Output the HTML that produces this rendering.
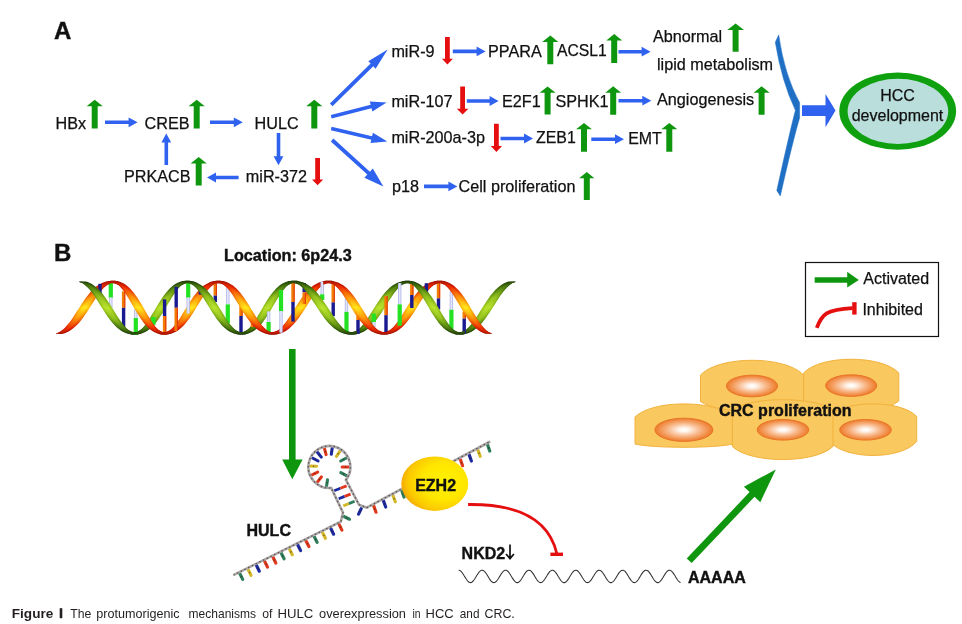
<!DOCTYPE html>
<html><head><meta charset="utf-8"><title>Figure 1</title>
<style>
html,body{margin:0;padding:0;background:#fff;}
body{width:962px;height:624px;overflow:hidden;font-family:"Liberation Sans",sans-serif;}
svg{display:block;will-change:transform;}
svg text{font-family:"Liberation Sans",sans-serif;fill:#111111;stroke:#111111;stroke-width:0.25px;}
svg text[font-weight="bold"]{stroke-width:0.4px;}
svg g.cap text{stroke:none;}
</style></head><body>
<svg width="962" height="624" viewBox="0 0 962 624">
<defs>
<radialGradient id="nuc" cx="50%" cy="50%" r="50%">
<stop offset="0" stop-color="#ffffff"/><stop offset="0.14" stop-color="#fff8f2"/><stop offset="0.55" stop-color="#f8b88a"/><stop offset="1" stop-color="#ee7a28"/>
</radialGradient>
<radialGradient id="ezh" cx="64%" cy="46%" r="68%">
<stop offset="0" stop-color="#fff200"/><stop offset="0.5" stop-color="#ffe600"/><stop offset="0.8" stop-color="#fbc800"/><stop offset="1" stop-color="#f29c00"/>
</radialGradient>
</defs>
<rect width="962" height="624" fill="#ffffff"/>

<text x="54" y="38.8" font-size="24" font-weight="bold" text-anchor="start" >A</text>
<text x="55.5" y="128.5" font-size="16.2" text-anchor="start" >HBx</text>
<path fill="#0f960f" d="M94.7,99.8 L102.8,106.2 L97.7,106.2 L97.7,128.5 L91.7,128.5 L91.7,106.2 L86.6,106.2Z"/>
<path fill="#3062f0" d="M105.0,124.1 L128.6,124.1 L128.6,127.2 L137.6,122.3 L128.6,117.4 L128.6,120.5 L105.0,120.5Z"/>
<text x="144.5" y="128.5" font-size="16.2" text-anchor="start" >CREB</text>
<path fill="#0f960f" d="M196.7,99.8 L204.8,106.2 L199.7,106.2 L199.7,128.5 L193.7,128.5 L193.7,106.2 L188.6,106.2Z"/>
<path fill="#3062f0" d="M210.0,124.1 L233.8,124.1 L233.8,127.2 L242.8,122.3 L233.8,117.4 L233.8,120.5 L210.0,120.5Z"/>
<text x="254.5" y="128.5" font-size="16.2" text-anchor="start" >HULC</text>
<path fill="#0f960f" d="M314.3,99.8 L322.4,106.2 L317.3,106.2 L317.3,128.5 L311.3,128.5 L311.3,106.2 L306.2,106.2Z"/>
<path fill="#3062f0" d="M276.7,133.0 L276.7,156.2 L273.6,156.2 L278.5,165.2 L283.4,156.2 L280.3,156.2 L280.3,133.0Z"/>
<path fill="#3062f0" d="M168.1,165.0 L168.1,142.6 L171.2,142.6 L166.3,133.6 L161.4,142.6 L164.5,142.6 L164.5,165.0Z"/>
<text x="124" y="181.8" font-size="16.2" text-anchor="start" >PRKACB</text>
<path fill="#0f960f" d="M198.7,157.0 L206.8,163.4 L201.7,163.4 L201.7,185.5 L195.7,185.5 L195.7,163.4 L190.6,163.4Z"/>
<path fill="#3062f0" d="M238.6,175.7 L216.0,175.7 L216.0,172.6 L207.0,177.5 L216.0,182.4 L216.0,179.3 L238.6,179.3Z"/>
<text x="245.8" y="181.8" font-size="16.2" text-anchor="start" >miR-372</text>
<path fill="#e60f0f" d="M317.6,185.2 L323.2,179.4 L320.0,179.4 L320.0,158.0 L315.2,158.0 L315.2,179.4 L312.0,179.4Z"/>
<path fill="#3062f0" d="M332.5,106.2 L373.3,66.3 L375.6,68.7 L387.7,49.6 L368.3,61.2 L370.6,63.6 L329.9,103.4Z"/>
<path fill="#3062f0" d="M331.6,118.4 L371.5,108.3 L372.4,111.6 L386.6,102.6 L369.8,101.5 L370.7,104.8 L330.8,115.0Z"/>
<path fill="#3062f0" d="M330.8,130.3 L371.3,139.7 L370.5,143.1 L387.3,141.6 L372.9,132.8 L372.1,136.2 L331.6,126.7Z"/>
<path fill="#3062f0" d="M330.8,141.5 L367.3,174.6 L364.4,177.8 L383.4,186.6 L372.8,168.5 L369.9,171.7 L333.4,138.5Z"/>
<text x="391.4" y="57.4" font-size="16.2" text-anchor="start" >miR-9</text>
<path fill="#e60f0f" d="M447.4,64.6 L452.9,58.8 L449.8,58.8 L449.8,37.0 L445.0,37.0 L445.0,58.8 L441.9,58.8Z"/>
<path fill="#3062f0" d="M452.8,53.2 L476.6,53.2 L476.6,56.3 L485.6,51.4 L476.6,46.5 L476.6,49.6 L452.8,49.6Z"/>
<text x="488" y="57.4" font-size="16.2" text-anchor="start" >PPARA</text>
<path fill="#0f960f" d="M550.3,35.6 L558.4,42.0 L553.3,42.0 L553.3,64.3 L547.3,64.3 L547.3,42.0 L542.2,42.0Z"/>
<text x="557" y="56.4" font-size="15.7" text-anchor="start" >ACSL1</text>
<path fill="#0f960f" d="M614.2,34.0 L622.2,40.4 L617.2,40.4 L617.2,62.9 L611.2,62.9 L611.2,40.4 L606.3,40.4Z"/>
<path fill="#3062f0" d="M618.5,53.5 L641.6,53.5 L641.6,56.6 L650.6,51.7 L641.6,46.8 L641.6,49.9 L618.5,49.9Z"/>
<text x="652.9" y="42" font-size="16.2" text-anchor="start" >Abnormal</text>
<path fill="#0f960f" d="M735.6,23.5 L744.0,29.9 L738.6,29.9 L738.6,51.7 L732.6,51.7 L732.6,29.9 L727.2,29.9Z"/>
<text x="657" y="70.3" font-size="16.2" text-anchor="start" >lipid metabolism</text>
<text x="391.4" y="107.0" font-size="16.2" text-anchor="start" >miR-107</text>
<path fill="#e60f0f" d="M462.6,114.5 L468.4,108.7 L465.0,108.7 L465.0,86.4 L460.2,86.4 L460.2,108.7 L456.8,108.7Z"/>
<path fill="#3062f0" d="M466.8,102.8 L489.6,102.8 L489.6,105.9 L498.6,101.0 L489.6,96.1 L489.6,99.2 L466.8,99.2Z"/>
<text x="502" y="107.0" font-size="16.2" text-anchor="start" >E2F1</text>
<path fill="#0f960f" d="M547.6,86.4 L555.6,92.8 L550.6,92.8 L550.6,114.5 L544.6,114.5 L544.6,92.8 L539.6,92.8Z"/>
<text x="555.4" y="106.8" font-size="16.2" text-anchor="start" >SPHK1</text>
<path fill="#0f960f" d="M613.2,86.3 L621.2,92.7 L616.2,92.7 L616.2,114.8 L610.2,114.8 L610.2,92.7 L605.3,92.7Z"/>
<path fill="#3062f0" d="M618.5,102.5 L642.3,102.5 L642.3,105.6 L651.3,100.7 L642.3,95.8 L642.3,98.9 L618.5,98.9Z"/>
<text x="657" y="104.6" font-size="16.2" text-anchor="start" >Angiogenesis</text>
<path fill="#0f960f" d="M761.6,86.3 L769.6,92.7 L764.6,92.7 L764.6,114.8 L758.6,114.8 L758.6,92.7 L753.6,92.7Z"/>
<text x="391.4" y="143.0" font-size="16.2" text-anchor="start" >miR-200a-3p</text>
<path fill="#e60f0f" d="M496.4,151.9 L502.0,146.1 L498.8,146.1 L498.8,123.8 L494.0,123.8 L494.0,146.1 L490.8,146.1Z"/>
<path fill="#3062f0" d="M500.5,140.3 L524.0,140.3 L524.0,143.4 L533.0,138.5 L524.0,133.6 L524.0,136.7 L500.5,136.7Z"/>
<text x="536" y="143.0" font-size="15.9" text-anchor="start" >ZEB1</text>
<path fill="#0f960f" d="M584.0,122.9 L591.9,129.3 L587.0,129.3 L587.0,151.7 L581.0,151.7 L581.0,129.3 L576.1,129.3Z"/>
<path fill="#3062f0" d="M591.3,141.0 L615.0,141.0 L615.0,144.1 L624.0,139.2 L615.0,134.3 L615.0,137.4 L591.3,137.4Z"/>
<text x="628.2" y="143.5" font-size="15.9" text-anchor="start" >EMT</text>
<path fill="#0f960f" d="M669.3,122.9 L677.3,129.3 L672.3,129.3 L672.3,151.7 L666.3,151.7 L666.3,129.3 L661.4,129.3Z"/>
<text x="391.9" y="191.7" font-size="16.2" text-anchor="start" >p18</text>
<path fill="#3062f0" d="M424.0,188.2 L448.4,188.2 L448.4,191.3 L457.4,186.4 L448.4,181.5 L448.4,184.6 L424.0,184.6Z"/>
<text x="458.5" y="191.7" font-size="16.2" text-anchor="start" >Cell proliferation</text>
<path fill="#0f960f" d="M586.8,171.9 L594.4,178.3 L589.8,178.3 L589.8,200.0 L583.8,200.0 L583.8,178.3 L579.1,178.3Z"/>
<path fill="#1f6fc4" stroke="#1f6fc4" stroke-width="0.5" stroke-linejoin="round" d="M778.7,34.9 Q784.5,75 799.6,102.6 L799.6,118 Q793,140 780.3,196 L776.8,190.5 Q789,135 795.4,110.3 Q781.8,82 775.3,42.3Z"/>
<path fill="#3062f0" d="M802,105.3 L825.5,105.3 L825.5,94 L835.5,110.6 L825.5,127.2 L825.5,116 L802,116Z"/>
<ellipse cx="897.7" cy="111.15" rx="58.4" ry="38.65" fill="#0fa00f"/>
<ellipse cx="897.9" cy="111.35" rx="50.3" ry="32.7" fill="#badedb"/>
<text x="897.5" y="100.8" font-size="16" text-anchor="middle" >HCC</text>
<text x="897.5" y="120.6" font-size="16" text-anchor="middle" >development</text>
<text x="54" y="260.8" font-size="24" font-weight="bold" text-anchor="start" >B</text>
<text x="224" y="260.6" font-size="16.2" font-weight="bold" text-anchor="start" >Location: 6p24.3</text>
<defs>
<linearGradient id="g1" gradientUnits="userSpaceOnUse" x1="0" y1="279.9" x2="0" y2="335.4"><stop offset="0" stop-color="#122a02"/><stop offset="0.13" stop-color="#386408"/><stop offset="0.31" stop-color="#74a416"/><stop offset="0.5" stop-color="#9cc81e"/><stop offset="0.69" stop-color="#74a416"/><stop offset="0.87" stop-color="#386408"/><stop offset="1" stop-color="#122a02"/></linearGradient>
<linearGradient id="g2" gradientUnits="userSpaceOnUse" x1="0" y1="279.9" x2="0" y2="335.4"><stop offset="0" stop-color="#183404"/><stop offset="0.13" stop-color="#44740c"/><stop offset="0.31" stop-color="#84b41a"/><stop offset="0.5" stop-color="#acd824"/><stop offset="0.69" stop-color="#84b41a"/><stop offset="0.87" stop-color="#44740c"/><stop offset="1" stop-color="#183404"/></linearGradient>
<linearGradient id="g3" gradientUnits="userSpaceOnUse" x1="0" y1="279.9" x2="0" y2="335.4"><stop offset="0" stop-color="#1e3c06"/><stop offset="0.13" stop-color="#508010"/><stop offset="0.31" stop-color="#94c21e"/><stop offset="0.5" stop-color="#bae22e"/><stop offset="0.69" stop-color="#94c21e"/><stop offset="0.87" stop-color="#508010"/><stop offset="1" stop-color="#1e3c06"/></linearGradient>
<linearGradient id="o1" gradientUnits="userSpaceOnUse" x1="0" y1="279.9" x2="0" y2="335.4"><stop offset="0" stop-color="#8c0800"/><stop offset="0.13" stop-color="#d41a00"/><stop offset="0.31" stop-color="#f26e06"/><stop offset="0.5" stop-color="#fdbe0c"/><stop offset="0.69" stop-color="#f26e06"/><stop offset="0.87" stop-color="#d41a00"/><stop offset="1" stop-color="#8c0800"/></linearGradient>
<linearGradient id="o2" gradientUnits="userSpaceOnUse" x1="0" y1="279.9" x2="0" y2="335.4"><stop offset="0" stop-color="#9c0e00"/><stop offset="0.13" stop-color="#e42400"/><stop offset="0.31" stop-color="#fa8408"/><stop offset="0.5" stop-color="#ffd414"/><stop offset="0.69" stop-color="#fa8408"/><stop offset="0.87" stop-color="#e42400"/><stop offset="1" stop-color="#9c0e00"/></linearGradient>
<linearGradient id="o3" gradientUnits="userSpaceOnUse" x1="0" y1="279.9" x2="0" y2="335.4"><stop offset="0" stop-color="#a81200"/><stop offset="0.13" stop-color="#ee3002"/><stop offset="0.31" stop-color="#fe960a"/><stop offset="0.5" stop-color="#ffe61c"/><stop offset="0.69" stop-color="#fe960a"/><stop offset="0.87" stop-color="#ee3002"/><stop offset="1" stop-color="#a81200"/></linearGradient>
</defs>
<g>
<path fill="url(#g1)" d="M129.6,330.6 L131.3,331.5 L133.1,332.0 L134.8,332.1 L136.6,331.9 L138.3,331.2 L140.1,330.1 L141.8,328.7 L143.5,326.9 L145.3,324.7 L147.0,322.4 L148.8,319.8 L150.5,317.0 L152.2,314.1 L154.0,311.2 L155.7,308.2 L157.5,305.3 L159.2,302.4 L160.9,299.7 L162.7,297.1 L164.4,294.7 L166.2,292.4 L167.9,290.4 L169.7,288.6 L171.4,287.0 L173.1,285.5 L174.9,284.3 L176.6,283.3 L178.4,282.5 L180.1,281.8 L181.9,281.3 L183.6,281.0 L185.3,280.7 L187.1,280.7 L188.8,280.7 L190.6,280.9 L192.3,281.2 L192.3,284.8 L190.6,283.8 L188.8,283.3 L187.1,283.2 L185.3,283.4 L183.6,284.1 L181.9,285.2 L180.1,286.6 L178.4,288.4 L176.6,290.6 L174.9,292.9 L173.1,295.5 L171.4,298.3 L169.7,301.2 L167.9,304.1 L166.2,307.1 L164.4,310.0 L162.7,312.9 L160.9,315.6 L159.2,318.2 L157.5,320.6 L155.7,322.9 L154.0,324.9 L152.2,326.7 L150.5,328.3 L148.8,329.8 L147.0,331.0 L145.3,332.0 L143.5,332.8 L141.8,333.5 L140.1,334.0 L138.3,334.3 L136.6,334.6 L134.8,334.6 L133.1,334.6 L131.3,334.4 L129.6,334.1Z"/>
<path fill="url(#g2)" d="M129.6,331.1 L131.3,331.9 L133.1,332.4 L134.8,332.5 L136.6,332.3 L138.3,331.7 L140.1,330.7 L141.8,329.3 L143.5,327.7 L145.3,325.7 L147.0,323.5 L148.8,321.1 L150.5,318.5 L152.2,315.7 L154.0,312.9 L155.7,310.1 L157.5,307.2 L159.2,304.4 L160.9,301.7 L162.7,299.1 L164.4,296.6 L166.2,294.3 L167.9,292.1 L169.7,290.2 L171.4,288.4 L173.1,286.8 L174.9,285.5 L176.6,284.3 L178.4,283.3 L180.1,282.5 L181.9,281.9 L183.6,281.4 L185.3,281.2 L187.1,281.1 L188.8,281.1 L190.6,281.3 L192.3,281.7 L192.3,284.2 L190.6,283.4 L188.8,282.9 L187.1,282.8 L185.3,283.0 L183.6,283.6 L181.9,284.6 L180.1,286.0 L178.4,287.6 L176.6,289.6 L174.9,291.8 L173.1,294.2 L171.4,296.8 L169.7,299.6 L167.9,302.4 L166.2,305.2 L164.4,308.1 L162.7,310.9 L160.9,313.6 L159.2,316.2 L157.5,318.7 L155.7,321.0 L154.0,323.2 L152.2,325.1 L150.5,326.9 L148.8,328.5 L147.0,329.8 L145.3,331.0 L143.5,332.0 L141.8,332.8 L140.1,333.4 L138.3,333.9 L136.6,334.1 L134.8,334.2 L133.1,334.2 L131.3,334.0 L129.6,333.6Z"/>
<path fill="url(#g3)" d="M129.6,331.7 L131.3,332.5 L133.1,332.9 L134.8,333.0 L136.6,332.8 L138.3,332.2 L140.1,331.3 L141.8,330.1 L143.5,328.6 L145.3,326.9 L147.0,324.9 L148.8,322.6 L150.5,320.2 L152.2,317.7 L154.0,315.1 L155.7,312.3 L157.5,309.6 L159.2,306.9 L160.9,304.2 L162.7,301.5 L164.4,299.0 L166.2,296.6 L167.9,294.3 L169.7,292.2 L171.4,290.2 L173.1,288.4 L174.9,286.8 L176.6,285.5 L178.4,284.3 L180.1,283.3 L181.9,282.5 L183.6,282.0 L185.3,281.6 L187.1,281.5 L188.8,281.6 L190.6,281.9 L192.3,282.3 L192.3,283.6 L190.6,282.9 L188.8,282.4 L187.1,282.3 L185.3,282.5 L183.6,283.1 L181.9,284.0 L180.1,285.2 L178.4,286.7 L176.6,288.4 L174.9,290.4 L173.1,292.7 L171.4,295.1 L169.7,297.6 L167.9,300.2 L166.2,303.0 L164.4,305.7 L162.7,308.4 L160.9,311.1 L159.2,313.8 L157.5,316.3 L155.7,318.7 L154.0,321.0 L152.2,323.1 L150.5,325.1 L148.8,326.9 L147.0,328.5 L145.3,329.8 L143.5,331.0 L141.8,332.0 L140.1,332.8 L138.3,333.3 L136.6,333.7 L134.8,333.8 L133.1,333.7 L131.3,333.5 L129.6,333.0Z"/>
<path fill="url(#g1)" d="M236.4,330.5 L238.1,331.4 L239.8,332.0 L241.6,332.1 L243.3,331.9 L245.0,331.2 L246.8,330.1 L248.5,328.7 L250.2,326.9 L251.9,324.8 L253.7,322.4 L255.4,319.8 L257.1,317.0 L258.8,314.2 L260.6,311.2 L262.3,308.2 L264.0,305.3 L265.7,302.4 L267.4,299.7 L269.2,297.1 L270.9,294.7 L272.6,292.4 L274.4,290.4 L276.1,288.6 L277.8,286.9 L279.5,285.5 L281.2,284.3 L283.0,283.3 L284.7,282.5 L286.4,281.8 L288.1,281.3 L289.9,280.9 L291.6,280.7 L293.3,280.7 L295.1,280.7 L296.8,280.8 L298.5,281.1 L298.5,284.6 L296.8,283.8 L295.1,283.3 L293.3,283.2 L291.6,283.4 L289.9,284.1 L288.1,285.2 L286.4,286.6 L284.7,288.4 L283.0,290.5 L281.2,292.9 L279.5,295.5 L277.8,298.3 L276.1,301.1 L274.4,304.1 L272.6,307.1 L270.9,310.0 L269.2,312.9 L267.4,315.6 L265.7,318.2 L264.0,320.6 L262.3,322.9 L260.6,324.9 L258.8,326.7 L257.1,328.4 L255.4,329.8 L253.7,331.0 L251.9,332.0 L250.2,332.8 L248.5,333.5 L246.8,334.0 L245.0,334.4 L243.3,334.6 L241.6,334.6 L239.8,334.6 L238.1,334.4 L236.4,334.1Z"/>
<path fill="url(#g2)" d="M236.4,331.1 L238.1,331.9 L239.8,332.4 L241.6,332.5 L243.3,332.3 L245.0,331.7 L246.8,330.7 L248.5,329.4 L250.2,327.7 L251.9,325.7 L253.7,323.5 L255.4,321.1 L257.1,318.5 L258.8,315.8 L260.6,312.9 L262.3,310.1 L264.0,307.2 L265.7,304.4 L267.4,301.7 L269.2,299.1 L270.9,296.6 L272.6,294.3 L274.4,292.1 L276.1,290.2 L277.8,288.4 L279.5,286.8 L281.2,285.5 L283.0,284.3 L284.7,283.3 L286.4,282.5 L288.1,281.9 L289.9,281.4 L291.6,281.2 L293.3,281.1 L295.1,281.1 L296.8,281.3 L298.5,281.6 L298.5,284.0 L296.8,283.3 L295.1,282.9 L293.3,282.8 L291.6,283.0 L289.9,283.6 L288.1,284.6 L286.4,285.9 L284.7,287.6 L283.0,289.6 L281.2,291.8 L279.5,294.2 L277.8,296.8 L276.1,299.5 L274.4,302.4 L272.6,305.2 L270.9,308.1 L269.2,310.9 L267.4,313.6 L265.7,316.2 L264.0,318.7 L262.3,321.0 L260.6,323.2 L258.8,325.1 L257.1,326.9 L255.4,328.5 L253.7,329.8 L251.9,331.0 L250.2,332.0 L248.5,332.8 L246.8,333.4 L245.0,333.9 L243.3,334.1 L241.6,334.2 L239.8,334.2 L238.1,334.0 L236.4,333.6Z"/>
<path fill="url(#g3)" d="M236.4,331.7 L238.1,332.4 L239.8,332.9 L241.6,333.0 L243.3,332.8 L245.0,332.2 L246.8,331.4 L248.5,330.2 L250.2,328.7 L251.9,326.9 L253.7,324.9 L255.4,322.7 L257.1,320.3 L258.8,317.7 L260.6,315.1 L262.3,312.4 L264.0,309.6 L265.7,306.9 L267.4,304.2 L269.2,301.5 L270.9,299.0 L272.6,296.6 L274.4,294.3 L276.1,292.1 L277.8,290.2 L279.5,288.4 L281.2,286.8 L283.0,285.4 L284.7,284.3 L286.4,283.3 L288.1,282.5 L289.9,282.0 L291.6,281.6 L293.3,281.5 L295.1,281.6 L296.8,281.8 L298.5,282.2 L298.5,283.5 L296.8,282.8 L295.1,282.4 L293.3,282.3 L291.6,282.5 L289.9,283.1 L288.1,283.9 L286.4,285.1 L284.7,286.6 L283.0,288.4 L281.2,290.4 L279.5,292.6 L277.8,295.0 L276.1,297.6 L274.4,300.2 L272.6,302.9 L270.9,305.7 L269.2,308.4 L267.4,311.1 L265.7,313.8 L264.0,316.3 L262.3,318.7 L260.6,321.0 L258.8,323.2 L257.1,325.1 L255.4,326.9 L253.7,328.5 L251.9,329.9 L250.2,331.0 L248.5,332.0 L246.8,332.8 L245.0,333.3 L243.3,333.7 L241.6,333.8 L239.8,333.7 L238.1,333.4 L236.4,333.0Z"/>
<path fill="url(#g1)" d="M346.6,330.7 L348.4,331.6 L350.3,332.0 L352.1,332.1 L353.9,331.8 L355.8,331.1 L357.6,330.0 L359.4,328.5 L361.2,326.7 L363.1,324.6 L364.9,322.2 L366.7,319.6 L368.6,316.8 L370.4,314.0 L372.2,311.1 L374.1,308.1 L375.9,305.2 L377.7,302.4 L379.6,299.7 L381.4,297.1 L383.2,294.7 L385.0,292.5 L386.9,290.5 L388.7,288.7 L390.5,287.0 L392.4,285.6 L394.2,284.4 L396.0,283.4 L397.9,282.6 L399.7,281.9 L401.5,281.4 L403.3,281.0 L405.2,280.8 L407.0,280.7 L408.8,280.7 L410.7,280.9 L412.5,281.2 L412.5,284.9 L410.7,283.9 L408.8,283.3 L407.0,283.2 L405.2,283.5 L403.3,284.2 L401.5,285.3 L399.7,286.8 L397.9,288.6 L396.0,290.7 L394.2,293.1 L392.4,295.7 L390.5,298.5 L388.7,301.3 L386.9,304.2 L385.0,307.2 L383.2,310.1 L381.4,312.9 L379.6,315.6 L377.7,318.2 L375.9,320.6 L374.1,322.8 L372.2,324.8 L370.4,326.6 L368.6,328.3 L366.7,329.7 L364.9,330.9 L363.1,331.9 L361.2,332.7 L359.4,333.4 L357.6,333.9 L355.8,334.3 L353.9,334.5 L352.1,334.6 L350.3,334.6 L348.4,334.5 L346.6,334.2Z"/>
<path fill="url(#g2)" d="M346.6,331.3 L348.4,332.0 L350.3,332.5 L352.1,332.5 L353.9,332.2 L355.8,331.6 L357.6,330.6 L359.4,329.2 L361.2,327.5 L363.1,325.5 L364.9,323.3 L366.7,320.9 L368.6,318.3 L370.4,315.6 L372.2,312.8 L374.1,310.0 L375.9,307.2 L377.7,304.4 L379.6,301.7 L381.4,299.1 L383.2,296.7 L385.0,294.4 L386.9,292.2 L388.7,290.3 L390.5,288.5 L392.4,286.9 L394.2,285.6 L396.0,284.4 L397.9,283.4 L399.7,282.6 L401.5,281.9 L403.3,281.5 L405.2,281.2 L407.0,281.1 L408.8,281.1 L410.7,281.3 L412.5,281.8 L412.5,284.4 L410.7,283.4 L408.8,282.9 L407.0,282.8 L405.2,283.1 L403.3,283.7 L401.5,284.7 L399.7,286.1 L397.9,287.8 L396.0,289.8 L394.2,292.0 L392.4,294.4 L390.5,297.0 L388.7,299.7 L386.9,302.5 L385.0,305.3 L383.2,308.1 L381.4,310.9 L379.6,313.6 L377.7,316.2 L375.9,318.6 L374.1,320.9 L372.2,323.1 L370.4,325.0 L368.6,326.8 L366.7,328.4 L364.9,329.7 L363.1,330.9 L361.2,331.9 L359.4,332.7 L357.6,333.4 L355.8,333.8 L353.9,334.1 L352.1,334.2 L350.3,334.2 L348.4,334.0 L346.6,333.7Z"/>
<path fill="url(#g3)" d="M346.6,331.8 L348.4,332.5 L350.3,332.9 L352.1,333.0 L353.9,332.7 L355.8,332.1 L357.6,331.2 L359.4,330.0 L361.2,328.5 L363.1,326.7 L364.9,324.7 L366.7,322.5 L368.6,320.1 L370.4,317.6 L372.2,315.0 L374.1,312.3 L375.9,309.6 L377.7,306.8 L379.6,304.2 L381.4,301.6 L383.2,299.0 L385.0,296.6 L386.9,294.4 L388.7,292.2 L390.5,290.3 L392.4,288.5 L394.2,286.9 L396.0,285.6 L397.9,284.4 L399.7,283.4 L401.5,282.6 L403.3,282.0 L405.2,281.7 L407.0,281.5 L408.8,281.6 L410.7,281.9 L412.5,282.4 L412.5,283.7 L410.7,282.9 L408.8,282.4 L407.0,282.3 L405.2,282.6 L403.3,283.2 L401.5,284.1 L399.7,285.3 L397.9,286.8 L396.0,288.6 L394.2,290.6 L392.4,292.8 L390.5,295.2 L388.7,297.7 L386.9,300.3 L385.0,303.0 L383.2,305.7 L381.4,308.5 L379.6,311.1 L377.7,313.7 L375.9,316.3 L374.1,318.7 L372.2,320.9 L370.4,323.1 L368.6,325.0 L366.7,326.8 L364.9,328.4 L363.1,329.7 L361.2,330.9 L359.4,331.9 L357.6,332.7 L355.8,333.3 L353.9,333.6 L352.1,333.8 L350.3,333.7 L348.4,333.5 L346.6,333.1Z"/>
<path fill="url(#g1)" d="M454.6,330.4 L456.3,331.4 L458.0,332.0 L459.7,332.1 L461.4,332.0 L463.1,331.4 L464.8,330.5 L466.4,329.3 L468.1,327.8 L469.8,326.0 L471.5,324.0 L473.2,321.8 L474.9,319.4 L476.6,316.8 L478.3,314.2 L480.0,311.5 L481.7,308.8 L483.4,306.1 L485.1,303.4 L486.7,300.9 L488.4,298.4 L490.1,296.1 L491.8,294.0 L493.5,292.0 L495.2,290.1 L496.9,288.5 L498.6,287.0 L500.3,285.7 L502.0,284.6 L503.7,283.6 L505.4,282.8 L507.0,282.1 L508.7,281.6 L510.4,281.4 L512.1,281.4 L513.8,281.5 L515.5,281.7 L515.5,282.1 L513.8,282.5 L512.1,283.3 L510.4,284.5 L508.7,285.9 L507.0,287.4 L505.4,289.2 L503.7,291.2 L502.0,293.4 L500.3,295.8 L498.6,298.4 L496.9,301.0 L495.2,303.7 L493.5,306.4 L491.8,309.1 L490.1,311.7 L488.4,314.3 L486.7,316.8 L485.1,319.1 L483.4,321.2 L481.7,323.3 L480.0,325.1 L478.3,326.8 L476.6,328.2 L474.9,329.6 L473.2,330.7 L471.5,331.7 L469.8,332.5 L468.1,333.2 L466.4,333.7 L464.8,334.1 L463.1,334.4 L461.4,334.6 L459.7,334.6 L458.0,334.6 L456.3,334.4 L454.6,334.1Z"/>
<path fill="url(#g2)" d="M454.6,330.9 L456.3,331.8 L458.0,332.4 L459.7,332.5 L461.4,332.4 L463.1,331.9 L464.8,331.1 L466.4,330.0 L468.1,328.6 L469.8,326.9 L471.5,325.0 L473.2,322.9 L474.9,320.7 L476.6,318.3 L478.3,315.8 L480.0,313.2 L481.7,310.6 L483.4,308.0 L485.1,305.4 L486.7,302.9 L488.4,300.4 L490.1,298.1 L491.8,295.9 L493.5,293.8 L495.2,291.9 L496.9,290.1 L498.6,288.5 L500.3,287.0 L502.0,285.7 L503.7,284.6 L505.4,283.6 L507.0,282.8 L508.7,282.2 L510.4,281.8 L512.1,281.7 L513.8,281.7 L515.5,281.8 L515.5,282.0 L513.8,282.4 L512.1,283.0 L510.4,284.0 L508.7,285.3 L507.0,286.7 L505.4,288.3 L503.7,290.2 L502.0,292.3 L500.3,294.5 L498.6,296.9 L496.9,299.4 L495.2,302.0 L493.5,304.6 L491.8,307.2 L490.1,309.8 L488.4,312.3 L486.7,314.8 L485.1,317.1 L483.4,319.3 L481.7,321.4 L480.0,323.4 L478.3,325.1 L476.6,326.8 L474.9,328.2 L473.2,329.5 L471.5,330.7 L469.8,331.6 L468.1,332.4 L466.4,333.1 L464.8,333.6 L463.1,334.0 L461.4,334.2 L459.7,334.2 L458.0,334.2 L456.3,333.9 L454.6,333.5Z"/>
<path fill="url(#g3)" d="M454.6,331.6 L456.3,332.4 L458.0,332.8 L459.7,333.0 L461.4,332.8 L463.1,332.4 L464.8,331.7 L466.4,330.7 L468.1,329.4 L469.8,328.0 L471.5,326.3 L473.2,324.4 L474.9,322.3 L476.6,320.1 L478.3,317.7 L480.0,315.3 L481.7,312.9 L483.4,310.3 L485.1,307.8 L486.7,305.3 L488.4,302.9 L490.1,300.5 L491.8,298.2 L493.5,296.0 L495.2,294.0 L496.9,292.0 L498.6,290.2 L500.3,288.6 L502.0,287.1 L503.7,285.8 L505.4,284.7 L507.0,283.7 L508.7,282.9 L510.4,282.4 L512.1,282.0 L513.8,281.8 L515.5,281.8 L515.5,282.0 L513.8,282.2 L512.1,282.7 L510.4,283.5 L508.7,284.6 L507.0,285.8 L505.4,287.3 L503.7,289.0 L502.0,290.9 L500.3,292.9 L498.6,295.1 L496.9,297.5 L495.2,299.9 L493.5,302.3 L491.8,304.8 L490.1,307.4 L488.4,309.8 L486.7,312.3 L485.1,314.7 L483.4,317.0 L481.7,319.2 L480.0,321.2 L478.3,323.2 L476.6,325.0 L474.9,326.6 L473.2,328.1 L471.5,329.4 L469.8,330.6 L468.1,331.6 L466.4,332.4 L464.8,333.0 L463.1,333.4 L461.4,333.7 L459.7,333.8 L458.0,333.7 L456.3,333.4 L454.6,332.9Z"/>
<path fill="url(#o1)" d="M56.1,333.2 L57.8,332.8 L59.5,332.0 L61.3,330.8 L63.0,329.4 L64.7,327.9 L66.4,326.1 L68.1,324.1 L69.9,321.9 L71.6,319.5 L73.3,317.0 L75.0,314.3 L76.7,311.6 L78.5,308.9 L80.2,306.2 L81.9,303.6 L83.6,301.1 L85.3,298.6 L87.1,296.3 L88.8,294.1 L90.5,292.1 L92.2,290.3 L93.9,288.6 L95.6,287.1 L97.4,285.8 L99.1,284.6 L100.8,283.7 L102.5,282.8 L104.2,282.2 L106.0,281.6 L107.7,281.2 L109.4,280.9 L111.1,280.7 L112.8,280.7 L114.6,280.7 L116.3,280.9 L118.0,281.2 L118.0,285.0 L116.3,283.9 L114.6,283.3 L112.8,283.2 L111.1,283.4 L109.4,283.9 L107.7,284.8 L106.0,286.0 L104.2,287.5 L102.5,289.3 L100.8,291.4 L99.1,293.6 L97.4,296.0 L95.6,298.6 L93.9,301.2 L92.2,303.9 L90.5,306.6 L88.8,309.3 L87.1,311.9 L85.3,314.5 L83.6,316.9 L81.9,319.2 L80.2,321.4 L78.5,323.4 L76.7,325.2 L75.0,326.8 L73.3,328.3 L71.6,329.6 L69.9,330.8 L68.1,331.7 L66.4,332.5 L64.7,333.2 L63.0,333.7 L61.3,333.9 L59.5,333.9 L57.8,333.8 L56.1,333.6Z"/>
<path fill="url(#o2)" d="M56.1,333.3 L57.8,332.9 L59.5,332.3 L61.3,331.3 L63.0,330.0 L64.7,328.6 L66.4,327.0 L68.1,325.1 L69.9,323.1 L71.6,320.8 L73.3,318.4 L75.0,315.9 L76.7,313.4 L78.5,310.8 L80.2,308.2 L81.9,305.6 L83.6,303.1 L85.3,300.6 L87.1,298.3 L88.8,296.0 L90.5,293.9 L92.2,292.0 L93.9,290.2 L95.6,288.6 L97.4,287.1 L99.1,285.8 L100.8,284.7 L102.5,283.7 L104.2,282.9 L106.0,282.2 L107.7,281.7 L109.4,281.4 L111.1,281.1 L112.8,281.1 L114.6,281.1 L116.3,281.4 L118.0,281.8 L118.0,284.4 L116.3,283.5 L114.6,282.9 L112.8,282.8 L111.1,282.9 L109.4,283.5 L107.7,284.3 L106.0,285.4 L104.2,286.8 L102.5,288.5 L100.8,290.3 L99.1,292.4 L97.4,294.7 L95.6,297.1 L93.9,299.6 L92.2,302.2 L90.5,304.8 L88.8,307.4 L87.1,310.0 L85.3,312.5 L83.6,314.9 L81.9,317.2 L80.2,319.5 L78.5,321.5 L76.7,323.5 L75.0,325.2 L73.3,326.9 L71.6,328.3 L69.9,329.6 L68.1,330.7 L66.4,331.7 L64.7,332.5 L63.0,333.1 L61.3,333.5 L59.5,333.6 L57.8,333.6 L56.1,333.5Z"/>
<path fill="url(#o3)" d="M56.1,333.3 L57.8,333.1 L59.5,332.6 L61.3,331.8 L63.0,330.7 L64.7,329.5 L66.4,328.0 L68.1,326.3 L69.9,324.5 L71.6,322.4 L73.3,320.2 L75.0,317.9 L76.7,315.5 L78.5,313.0 L80.2,310.5 L81.9,308.0 L83.6,305.5 L85.3,303.1 L87.1,300.7 L88.8,298.4 L90.5,296.2 L92.2,294.1 L93.9,292.2 L95.6,290.4 L97.4,288.7 L99.1,287.2 L100.8,285.9 L102.5,284.8 L104.2,283.8 L106.0,283.0 L107.7,282.3 L109.4,281.9 L111.1,281.6 L112.8,281.5 L114.6,281.6 L116.3,281.9 L118.0,282.4 L118.0,283.8 L116.3,282.9 L114.6,282.4 L112.8,282.3 L111.1,282.5 L109.4,282.9 L107.7,283.7 L106.0,284.7 L104.2,285.9 L102.5,287.4 L100.8,289.1 L99.1,291.0 L97.4,293.1 L95.6,295.3 L93.9,297.6 L92.2,300.0 L90.5,302.5 L88.8,305.0 L87.1,307.5 L85.3,310.0 L83.6,312.5 L81.9,314.8 L80.2,317.1 L78.5,319.3 L76.7,321.4 L75.0,323.3 L73.3,325.1 L71.6,326.7 L69.9,328.2 L68.1,329.5 L66.4,330.6 L64.7,331.6 L63.0,332.4 L61.3,332.9 L59.5,333.3 L57.8,333.5 L56.1,333.5Z"/>
<path fill="url(#o1)" d="M159.3,330.3 L161.1,331.4 L162.9,332.0 L164.6,332.1 L166.4,331.9 L168.2,331.2 L170.0,330.1 L171.8,328.6 L173.5,326.8 L175.3,324.7 L177.1,322.3 L178.9,319.7 L180.7,316.9 L182.4,314.1 L184.2,311.1 L186.0,308.2 L187.8,305.3 L189.6,302.4 L191.4,299.7 L193.1,297.1 L194.9,294.7 L196.7,292.5 L198.5,290.4 L200.3,288.6 L202.0,287.0 L203.8,285.6 L205.6,284.4 L207.4,283.4 L209.2,282.5 L210.9,281.8 L212.7,281.3 L214.5,281.0 L216.3,280.7 L218.1,280.7 L219.8,280.7 L221.6,280.9 L223.4,281.2 L223.4,284.8 L221.6,283.8 L219.8,283.3 L218.1,283.2 L216.3,283.4 L214.5,284.1 L212.7,285.2 L210.9,286.7 L209.2,288.5 L207.4,290.6 L205.6,293.0 L203.8,295.6 L202.0,298.4 L200.3,301.2 L198.5,304.2 L196.7,307.1 L194.9,310.0 L193.1,312.9 L191.4,315.6 L189.6,318.2 L187.8,320.6 L186.0,322.8 L184.2,324.9 L182.4,326.7 L180.7,328.3 L178.9,329.7 L177.1,330.9 L175.3,331.9 L173.5,332.8 L171.8,333.5 L170.0,334.0 L168.2,334.3 L166.4,334.6 L164.6,334.6 L162.9,334.6 L161.1,334.4 L159.3,334.1Z"/>
<path fill="url(#o2)" d="M159.3,330.9 L161.1,331.9 L162.9,332.4 L164.6,332.5 L166.4,332.3 L168.2,331.6 L170.0,330.6 L171.8,329.3 L173.5,327.6 L175.3,325.6 L177.1,323.4 L178.9,321.0 L180.7,318.4 L182.4,315.7 L184.2,312.9 L186.0,310.0 L187.8,307.2 L189.6,304.4 L191.4,301.7 L193.1,299.1 L194.9,296.6 L196.7,294.3 L198.5,292.2 L200.3,290.2 L202.0,288.5 L203.8,286.9 L205.6,285.5 L207.4,284.3 L209.2,283.3 L210.9,282.5 L212.7,281.9 L214.5,281.5 L216.3,281.2 L218.1,281.1 L219.8,281.1 L221.6,281.3 L223.4,281.7 L223.4,284.3 L221.6,283.4 L219.8,282.9 L218.1,282.8 L216.3,283.0 L214.5,283.7 L212.7,284.7 L210.9,286.0 L209.2,287.7 L207.4,289.7 L205.6,291.9 L203.8,294.3 L202.0,296.9 L200.3,299.6 L198.5,302.4 L196.7,305.3 L194.9,308.1 L193.1,310.9 L191.4,313.6 L189.6,316.2 L187.8,318.7 L186.0,321.0 L184.2,323.1 L182.4,325.1 L180.7,326.8 L178.9,328.4 L177.1,329.8 L175.3,331.0 L173.5,332.0 L171.8,332.8 L170.0,333.4 L168.2,333.8 L166.4,334.1 L164.6,334.2 L162.9,334.2 L161.1,333.9 L159.3,333.5Z"/>
<path fill="url(#o3)" d="M159.3,331.5 L161.1,332.4 L162.9,332.9 L164.6,333.0 L166.4,332.8 L168.2,332.2 L170.0,331.3 L171.8,330.1 L173.5,328.6 L175.3,326.8 L177.1,324.8 L178.9,322.6 L180.7,320.2 L182.4,317.6 L184.2,315.0 L186.0,312.3 L187.8,309.6 L189.6,306.9 L191.4,304.2 L193.1,301.5 L194.9,299.0 L196.7,296.6 L198.5,294.3 L200.3,292.2 L202.0,290.2 L203.8,288.5 L205.6,286.9 L207.4,285.5 L209.2,284.3 L210.9,283.3 L212.7,282.6 L214.5,282.0 L216.3,281.6 L218.1,281.5 L219.8,281.6 L221.6,281.8 L223.4,282.3 L223.4,283.6 L221.6,282.9 L219.8,282.4 L218.1,282.3 L216.3,282.5 L214.5,283.1 L212.7,284.0 L210.9,285.2 L209.2,286.7 L207.4,288.5 L205.6,290.5 L203.8,292.7 L202.0,295.1 L200.3,297.7 L198.5,300.3 L196.7,303.0 L194.9,305.7 L193.1,308.4 L191.4,311.1 L189.6,313.8 L187.8,316.3 L186.0,318.7 L184.2,321.0 L182.4,323.1 L180.7,325.1 L178.9,326.8 L177.1,328.4 L175.3,329.8 L173.5,331.0 L171.8,332.0 L170.0,332.7 L168.2,333.3 L166.4,333.7 L164.6,333.8 L162.9,333.7 L161.1,333.4 L159.3,332.9Z"/>
<path fill="url(#o1)" d="M267.4,330.5 L269.2,331.5 L271.1,332.0 L272.9,332.1 L274.8,331.8 L276.6,331.1 L278.4,330.0 L280.3,328.5 L282.1,326.7 L283.9,324.5 L285.8,322.2 L287.6,319.6 L289.5,316.8 L291.3,314.0 L293.1,311.1 L295.0,308.1 L296.8,305.2 L298.7,302.4 L300.5,299.7 L302.3,297.1 L304.2,294.7 L306.0,292.5 L307.9,290.5 L309.7,288.7 L311.5,287.0 L313.4,285.6 L315.2,284.4 L317.1,283.4 L318.9,282.6 L320.7,281.9 L322.6,281.4 L324.4,281.0 L326.2,280.8 L328.1,280.7 L329.9,280.7 L331.8,280.8 L333.6,281.2 L333.6,284.7 L331.8,283.8 L329.9,283.3 L328.1,283.2 L326.2,283.5 L324.4,284.2 L322.6,285.3 L320.7,286.8 L318.9,288.6 L317.1,290.8 L315.2,293.1 L313.4,295.7 L311.5,298.5 L309.7,301.3 L307.9,304.2 L306.0,307.2 L304.2,310.1 L302.3,312.9 L300.5,315.6 L298.7,318.2 L296.8,320.6 L295.0,322.8 L293.1,324.8 L291.3,326.6 L289.5,328.3 L287.6,329.7 L285.8,330.9 L283.9,331.9 L282.1,332.7 L280.3,333.4 L278.4,333.9 L276.6,334.3 L274.8,334.5 L272.9,334.6 L271.1,334.6 L269.2,334.4 L267.4,334.1Z"/>
<path fill="url(#o2)" d="M267.4,331.0 L269.2,331.9 L271.1,332.4 L272.9,332.5 L274.8,332.2 L276.6,331.6 L278.4,330.5 L280.3,329.2 L282.1,327.5 L283.9,325.5 L285.8,323.3 L287.6,320.9 L289.5,318.3 L291.3,315.6 L293.1,312.8 L295.0,310.0 L296.8,307.2 L298.7,304.4 L300.5,301.7 L302.3,299.1 L304.2,296.7 L306.0,294.4 L307.9,292.2 L309.7,290.3 L311.5,288.5 L313.4,286.9 L315.2,285.6 L317.1,284.4 L318.9,283.4 L320.7,282.6 L322.6,281.9 L324.4,281.5 L326.2,281.2 L328.1,281.1 L329.9,281.1 L331.8,281.3 L333.6,281.7 L333.6,284.2 L331.8,283.3 L329.9,282.9 L328.1,282.8 L326.2,283.1 L324.4,283.7 L322.6,284.8 L320.7,286.1 L318.9,287.8 L317.1,289.8 L315.2,292.0 L313.4,294.4 L311.5,297.0 L309.7,299.7 L307.9,302.5 L306.0,305.3 L304.2,308.1 L302.3,310.9 L300.5,313.6 L298.7,316.2 L296.8,318.6 L295.0,320.9 L293.1,323.1 L291.3,325.0 L289.5,326.8 L287.6,328.4 L285.8,329.7 L283.9,330.9 L282.1,331.9 L280.3,332.7 L278.4,333.4 L276.6,333.8 L274.8,334.1 L272.9,334.2 L271.1,334.2 L269.2,334.0 L267.4,333.6Z"/>
<path fill="url(#o3)" d="M267.4,331.7 L269.2,332.5 L271.1,332.9 L272.9,333.0 L274.8,332.7 L276.6,332.1 L278.4,331.2 L280.3,330.0 L282.1,328.5 L283.9,326.7 L285.8,324.7 L287.6,322.5 L289.5,320.1 L291.3,317.6 L293.1,315.0 L295.0,312.3 L296.8,309.6 L298.7,306.8 L300.5,304.2 L302.3,301.6 L304.2,299.0 L306.0,296.6 L307.9,294.4 L309.7,292.3 L311.5,290.3 L313.4,288.5 L315.2,287.0 L317.1,285.6 L318.9,284.4 L320.7,283.4 L322.6,282.6 L324.4,282.0 L326.2,281.7 L328.1,281.5 L329.9,281.6 L331.8,281.8 L333.6,282.3 L333.6,283.6 L331.8,282.8 L329.9,282.4 L328.1,282.3 L326.2,282.6 L324.4,283.2 L322.6,284.1 L320.7,285.3 L318.9,286.8 L317.1,288.6 L315.2,290.6 L313.4,292.8 L311.5,295.2 L309.7,297.7 L307.9,300.3 L306.0,303.0 L304.2,305.7 L302.3,308.5 L300.5,311.1 L298.7,313.7 L296.8,316.3 L295.0,318.7 L293.1,320.9 L291.3,323.0 L289.5,325.0 L287.6,326.8 L285.8,328.3 L283.9,329.7 L282.1,330.9 L280.3,331.9 L278.4,332.7 L276.6,333.3 L274.8,333.6 L272.9,333.8 L271.1,333.7 L269.2,333.5 L267.4,333.0Z"/>
<path fill="url(#o1)" d="M379.0,330.6 L380.8,331.5 L382.6,332.0 L384.5,332.1 L386.3,331.8 L388.1,331.1 L389.9,330.0 L391.7,328.5 L393.6,326.7 L395.4,324.6 L397.2,322.2 L399.0,319.6 L400.8,316.9 L402.7,314.0 L404.5,311.1 L406.3,308.1 L408.1,305.2 L409.9,302.4 L411.8,299.7 L413.6,297.1 L415.4,294.7 L417.2,292.5 L419.0,290.5 L420.8,288.6 L422.7,287.0 L424.5,285.6 L426.3,284.4 L428.1,283.4 L429.9,282.5 L431.8,281.9 L433.6,281.4 L435.4,281.0 L437.2,280.8 L439.0,280.7 L440.9,280.7 L442.7,280.9 L444.5,281.2 L444.5,284.9 L442.7,283.9 L440.9,283.3 L439.0,283.2 L437.2,283.5 L435.4,284.2 L433.6,285.3 L431.8,286.8 L429.9,288.6 L428.1,290.7 L426.3,293.1 L424.5,295.7 L422.7,298.4 L420.8,301.3 L419.0,304.2 L417.2,307.2 L415.4,310.1 L413.6,312.9 L411.8,315.6 L409.9,318.2 L408.1,320.6 L406.3,322.8 L404.5,324.8 L402.7,326.7 L400.8,328.3 L399.0,329.7 L397.2,330.9 L395.4,331.9 L393.6,332.8 L391.7,333.4 L389.9,333.9 L388.1,334.3 L386.3,334.5 L384.5,334.6 L382.6,334.6 L380.8,334.4 L379.0,334.1Z"/>
<path fill="url(#o2)" d="M379.0,331.1 L380.8,332.0 L382.6,332.4 L384.5,332.5 L386.3,332.3 L388.1,331.6 L389.9,330.6 L391.7,329.2 L393.6,327.5 L395.4,325.6 L397.2,323.3 L399.0,320.9 L400.8,318.3 L402.7,315.6 L404.5,312.8 L406.3,310.0 L408.1,307.2 L409.9,304.4 L411.8,301.7 L413.6,299.1 L415.4,296.7 L417.2,294.3 L419.0,292.2 L420.8,290.3 L422.7,288.5 L424.5,286.9 L426.3,285.6 L428.1,284.4 L429.9,283.4 L431.8,282.6 L433.6,281.9 L435.4,281.5 L437.2,281.2 L439.0,281.1 L440.9,281.1 L442.7,281.3 L444.5,281.8 L444.5,284.3 L442.7,283.4 L440.9,282.9 L439.0,282.8 L437.2,283.0 L435.4,283.7 L433.6,284.7 L431.8,286.1 L429.9,287.8 L428.1,289.7 L426.3,292.0 L424.5,294.4 L422.7,297.0 L420.8,299.7 L419.0,302.5 L417.2,305.3 L415.4,308.1 L413.6,310.9 L411.8,313.6 L409.9,316.2 L408.1,318.6 L406.3,321.0 L404.5,323.1 L402.7,325.0 L400.8,326.8 L399.0,328.4 L397.2,329.7 L395.4,330.9 L393.6,331.9 L391.7,332.7 L389.9,333.4 L388.1,333.8 L386.3,334.1 L384.5,334.2 L382.6,334.2 L380.8,334.0 L379.0,333.6Z"/>
<path fill="url(#o3)" d="M379.0,331.7 L380.8,332.5 L382.6,332.9 L384.5,333.0 L386.3,332.7 L388.1,332.1 L389.9,331.2 L391.7,330.0 L393.6,328.5 L395.4,326.7 L397.2,324.7 L399.0,322.5 L400.8,320.1 L402.7,317.6 L404.5,315.0 L406.3,312.3 L408.1,309.6 L409.9,306.8 L411.8,304.2 L413.6,301.6 L415.4,299.0 L417.2,296.6 L419.0,294.4 L420.8,292.2 L422.7,290.3 L424.5,288.5 L426.3,286.9 L428.1,285.5 L429.9,284.4 L431.8,283.4 L433.6,282.6 L435.4,282.0 L437.2,281.7 L439.0,281.5 L440.9,281.6 L442.7,281.9 L444.5,282.4 L444.5,283.7 L442.7,282.9 L440.9,282.4 L439.0,282.3 L437.2,282.6 L435.4,283.2 L433.6,284.1 L431.8,285.3 L429.9,286.8 L428.1,288.6 L426.3,290.6 L424.5,292.8 L422.7,295.2 L420.8,297.7 L419.0,300.3 L417.2,303.0 L415.4,305.7 L413.6,308.5 L411.8,311.1 L409.9,313.7 L408.1,316.3 L406.3,318.7 L404.5,320.9 L402.7,323.1 L400.8,325.0 L399.0,326.8 L397.2,328.4 L395.4,329.8 L393.6,330.9 L391.7,331.9 L389.9,332.7 L388.1,333.3 L386.3,333.6 L384.5,333.8 L382.6,333.7 L380.8,333.5 L379.0,333.0Z"/>
</g>
<g>
<rect x="98.3" y="283.8" width="3.4" height="9.5" fill="#1a1a90"/>
<rect x="108.7" y="281.0" width="4.2" height="16.7" fill="#22e222"/>
<rect x="109.1" y="297.7" width="3.4" height="10.3" fill="#b6baec"/>
<rect x="110.0" y="297.7" width="1.6" height="10.3" fill="#e4e6fa"/>
<rect x="121.9" y="291.3" width="3.4" height="16.5" fill="#f27c00"/>
<rect x="124.2" y="291.3" width="1.1" height="16.5" fill="#e03a10"/>
<rect x="121.9" y="307.8" width="3.4" height="19.2" fill="#1a1a90"/>
<rect x="134.1" y="309.5" width="3.4" height="8.5" fill="#b6baec"/>
<rect x="135.0" y="309.5" width="1.6" height="8.5" fill="#e4e6fa"/>
<rect x="133.7" y="318.0" width="4.2" height="17.0" fill="#22e222"/>
<rect x="151.3" y="317.0" width="4.2" height="8.0" fill="#22e222"/>
<rect x="162.9" y="299.4" width="3.4" height="16.6" fill="#1a1a90"/>
<rect x="162.9" y="316.0" width="3.4" height="18.5" fill="#f27c00"/>
<rect x="165.2" y="316.0" width="1.1" height="18.5" fill="#e03a10"/>
<rect x="174.5" y="286.8" width="3.4" height="21.0" fill="#1a1a90"/>
<rect x="174.5" y="307.8" width="3.4" height="23.2" fill="#f27c00"/>
<rect x="176.8" y="307.8" width="1.1" height="23.2" fill="#e03a10"/>
<rect x="186.1" y="281.0" width="4.2" height="16.7" fill="#22e222"/>
<rect x="186.5" y="297.7" width="3.4" height="15.8" fill="#b6baec"/>
<rect x="187.4" y="297.7" width="1.6" height="15.8" fill="#e4e6fa"/>
<rect x="198.7" y="288.6" width="3.4" height="6.0" fill="#1a1a90"/>
<rect x="213.6" y="281.8" width="3.4" height="13.8" fill="#f27c00"/>
<rect x="215.9" y="281.8" width="1.1" height="13.8" fill="#e03a10"/>
<rect x="213.6" y="295.6" width="3.4" height="6.4" fill="#1a1a90"/>
<rect x="226.1" y="285.0" width="3.4" height="19.4" fill="#b6baec"/>
<rect x="227.0" y="285.0" width="1.6" height="19.4" fill="#e4e6fa"/>
<rect x="225.7" y="304.4" width="4.2" height="18.6" fill="#22e222"/>
<rect x="239.3" y="304.8" width="3.4" height="11.2" fill="#f27c00"/>
<rect x="241.6" y="304.8" width="1.1" height="11.2" fill="#e03a10"/>
<rect x="239.3" y="316.0" width="3.4" height="17.8" fill="#1a1a90"/>
<rect x="250.7" y="319.6" width="3.4" height="7.4" fill="#f27c00"/>
<rect x="253.0" y="319.6" width="1.1" height="7.4" fill="#e03a10"/>
<rect x="266.9" y="311.5" width="3.4" height="10.5" fill="#b6baec"/>
<rect x="267.8" y="311.5" width="1.6" height="10.5" fill="#e4e6fa"/>
<rect x="266.5" y="322.0" width="4.2" height="10.5" fill="#22e222"/>
<rect x="278.9" y="290.0" width="4.2" height="21.2" fill="#22e222"/>
<rect x="279.3" y="311.2" width="3.4" height="21.3" fill="#b6baec"/>
<rect x="280.2" y="311.2" width="1.6" height="21.3" fill="#e4e6fa"/>
<rect x="291.3" y="283.0" width="3.4" height="19.0" fill="#f27c00"/>
<rect x="293.6" y="283.0" width="1.1" height="19.0" fill="#e03a10"/>
<rect x="291.3" y="302.0" width="3.4" height="19.6" fill="#1a1a90"/>
<rect x="302.5" y="283.0" width="3.4" height="9.3" fill="#1a1a90"/>
<rect x="302.5" y="292.3" width="3.4" height="11.7" fill="#f27c00"/>
<rect x="304.8" y="292.3" width="1.1" height="11.7" fill="#e03a10"/>
<rect x="320.5" y="281.8" width="3.4" height="12.5" fill="#b6baec"/>
<rect x="321.4" y="281.8" width="1.6" height="12.5" fill="#e4e6fa"/>
<rect x="320.1" y="294.3" width="4.2" height="5.7" fill="#22e222"/>
<rect x="331.5" y="282.5" width="3.4" height="19.9" fill="#f27c00"/>
<rect x="333.8" y="282.5" width="1.1" height="19.9" fill="#e03a10"/>
<rect x="331.5" y="302.4" width="3.4" height="13.8" fill="#1a1a90"/>
<rect x="344.8" y="296.0" width="3.4" height="15.9" fill="#b6baec"/>
<rect x="345.7" y="296.0" width="1.6" height="15.9" fill="#e4e6fa"/>
<rect x="344.4" y="311.9" width="4.2" height="20.6" fill="#22e222"/>
<rect x="356.3" y="315.6" width="3.4" height="4.4" fill="#f27c00"/>
<rect x="358.6" y="315.6" width="1.1" height="4.4" fill="#e03a10"/>
<rect x="356.3" y="320.0" width="3.4" height="13.8" fill="#1a1a90"/>
<rect x="371.7" y="313.6" width="4.2" height="8.4" fill="#22e222"/>
<rect x="372.1" y="322.0" width="3.4" height="5.0" fill="#b6baec"/>
<rect x="373.0" y="322.0" width="1.6" height="5.0" fill="#e4e6fa"/>
<rect x="384.3" y="296.0" width="3.4" height="19.2" fill="#f27c00"/>
<rect x="386.6" y="296.0" width="1.1" height="19.2" fill="#e03a10"/>
<rect x="384.3" y="315.2" width="3.4" height="18.6" fill="#1a1a90"/>
<rect x="398.0" y="283.2" width="3.4" height="21.2" fill="#b6baec"/>
<rect x="398.9" y="283.2" width="1.6" height="21.2" fill="#e4e6fa"/>
<rect x="397.6" y="304.4" width="4.2" height="21.3" fill="#22e222"/>
<rect x="410.1" y="281.8" width="3.4" height="13.2" fill="#f27c00"/>
<rect x="412.4" y="281.8" width="1.1" height="13.2" fill="#e03a10"/>
<rect x="410.1" y="295.0" width="3.4" height="13.0" fill="#1a1a90"/>
<rect x="424.7" y="283.2" width="3.4" height="9.4" fill="#1a1a90"/>
<rect x="436.8" y="281.0" width="3.4" height="17.4" fill="#f27c00"/>
<rect x="439.1" y="281.0" width="1.1" height="17.4" fill="#e03a10"/>
<rect x="436.8" y="298.4" width="3.4" height="11.1" fill="#1a1a90"/>
<rect x="449.7" y="291.3" width="3.4" height="18.5" fill="#b6baec"/>
<rect x="450.6" y="291.3" width="1.6" height="18.5" fill="#e4e6fa"/>
<rect x="449.3" y="309.8" width="4.2" height="19.2" fill="#22e222"/>
<rect x="462.5" y="311.5" width="3.4" height="7.1" fill="#f27c00"/>
<rect x="464.8" y="311.5" width="1.1" height="7.1" fill="#e03a10"/>
<rect x="462.5" y="318.6" width="3.4" height="15.2" fill="#1a1a90"/>
</g>
<g>
<path fill="url(#o1)" d="M108.0,281.1 L109.7,280.9 L111.4,280.7 L113.1,280.7 L114.8,280.7 L116.5,280.9 L118.2,281.3 L119.9,281.8 L121.6,282.5 L123.3,283.3 L125.0,284.3 L126.7,285.5 L128.4,286.9 L130.1,288.5 L131.8,290.4 L133.5,292.4 L135.2,294.7 L136.9,297.1 L138.7,299.7 L140.4,302.5 L142.1,305.3 L143.8,308.3 L145.5,311.2 L147.2,314.2 L148.9,317.1 L150.6,319.8 L152.3,322.5 L154.0,324.8 L155.7,326.9 L157.4,328.7 L159.1,330.2 L160.8,331.3 L162.5,331.9 L164.2,332.1 L165.9,332.0 L167.6,331.4 L169.3,330.5 L169.3,334.1 L167.6,334.4 L165.9,334.6 L164.2,334.6 L162.5,334.6 L160.8,334.4 L159.1,334.0 L157.4,333.5 L155.7,332.8 L154.0,332.0 L152.3,331.0 L150.6,329.8 L148.9,328.4 L147.2,326.8 L145.5,324.9 L143.8,322.9 L142.1,320.6 L140.4,318.2 L138.7,315.6 L136.9,312.8 L135.2,310.0 L133.5,307.0 L131.8,304.1 L130.1,301.1 L128.4,298.2 L126.7,295.5 L125.0,292.8 L123.3,290.5 L121.6,288.4 L119.9,286.6 L118.2,285.1 L116.5,284.0 L114.8,283.4 L113.1,283.2 L111.4,283.3 L109.7,283.8 L108.0,284.6Z"/>
<path fill="url(#o2)" d="M108.0,281.6 L109.7,281.3 L111.4,281.1 L113.1,281.1 L114.8,281.1 L116.5,281.4 L118.2,281.9 L119.9,282.5 L121.6,283.3 L123.3,284.2 L125.0,285.4 L126.7,286.8 L128.4,288.4 L130.1,290.1 L131.8,292.1 L133.5,294.3 L135.2,296.6 L136.9,299.1 L138.7,301.7 L140.4,304.4 L142.1,307.3 L143.8,310.1 L145.5,313.0 L147.2,315.8 L148.9,318.5 L150.6,321.1 L152.3,323.6 L154.0,325.8 L155.7,327.8 L157.4,329.4 L159.1,330.7 L160.8,331.7 L162.5,332.3 L164.2,332.5 L165.9,332.4 L167.6,331.9 L169.3,331.1 L169.3,333.6 L167.6,334.0 L165.9,334.2 L164.2,334.2 L162.5,334.2 L160.8,333.9 L159.1,333.4 L157.4,332.8 L155.7,332.0 L154.0,331.1 L152.3,329.9 L150.6,328.5 L148.9,326.9 L147.2,325.2 L145.5,323.2 L143.8,321.0 L142.1,318.7 L140.4,316.2 L138.7,313.6 L136.9,310.9 L135.2,308.0 L133.5,305.2 L131.8,302.3 L130.1,299.5 L128.4,296.8 L126.7,294.2 L125.0,291.7 L123.3,289.5 L121.6,287.5 L119.9,285.9 L118.2,284.6 L116.5,283.6 L114.8,283.0 L113.1,282.8 L111.4,282.9 L109.7,283.3 L108.0,284.1Z"/>
<path fill="url(#o3)" d="M108.0,282.2 L109.7,281.8 L111.4,281.6 L113.1,281.5 L114.8,281.6 L116.5,282.0 L118.2,282.5 L119.9,283.3 L121.6,284.2 L123.3,285.4 L125.0,286.8 L126.7,288.4 L128.4,290.1 L130.1,292.1 L131.8,294.2 L133.5,296.5 L135.2,299.0 L136.9,301.5 L138.7,304.2 L140.4,306.9 L142.1,309.6 L143.8,312.4 L145.5,315.1 L147.2,317.8 L148.9,320.3 L150.6,322.7 L152.3,324.9 L154.0,326.9 L155.7,328.7 L157.4,330.2 L159.1,331.4 L160.8,332.3 L162.5,332.8 L164.2,333.0 L165.9,332.9 L167.6,332.4 L169.3,331.7 L169.3,333.0 L167.6,333.4 L165.9,333.7 L164.2,333.8 L162.5,333.7 L160.8,333.3 L159.1,332.8 L157.4,332.0 L155.7,331.1 L154.0,329.9 L152.3,328.5 L150.6,326.9 L148.9,325.2 L147.2,323.2 L145.5,321.1 L143.8,318.8 L142.1,316.3 L140.4,313.8 L138.7,311.1 L136.9,308.4 L135.2,305.7 L133.5,302.9 L131.8,300.2 L130.1,297.5 L128.4,295.0 L126.7,292.6 L125.0,290.4 L123.3,288.4 L121.6,286.6 L119.9,285.1 L118.2,283.9 L116.5,283.0 L114.8,282.5 L113.1,282.3 L111.4,282.4 L109.7,282.8 L108.0,283.5Z"/>
<path fill="url(#o1)" d="M213.4,281.2 L215.2,280.9 L217.0,280.7 L218.7,280.7 L220.5,280.7 L222.3,281.0 L224.1,281.3 L225.8,281.8 L227.6,282.5 L229.4,283.4 L231.2,284.4 L233.0,285.6 L234.7,287.0 L236.5,288.6 L238.3,290.4 L240.1,292.5 L241.8,294.7 L243.6,297.1 L245.4,299.7 L247.2,302.4 L249.0,305.3 L250.7,308.2 L252.5,311.1 L254.3,314.1 L256.1,316.9 L257.8,319.7 L259.6,322.3 L261.4,324.7 L263.2,326.8 L265.0,328.6 L266.7,330.1 L268.5,331.2 L270.3,331.9 L272.1,332.1 L273.8,332.0 L275.6,331.5 L277.4,330.6 L277.4,334.2 L275.6,334.4 L273.8,334.6 L272.1,334.6 L270.3,334.6 L268.5,334.3 L266.7,334.0 L265.0,333.5 L263.2,332.8 L261.4,331.9 L259.6,330.9 L257.8,329.7 L256.1,328.3 L254.3,326.7 L252.5,324.9 L250.7,322.8 L249.0,320.6 L247.2,318.2 L245.4,315.6 L243.6,312.9 L241.8,310.0 L240.1,307.1 L238.3,304.2 L236.5,301.2 L234.7,298.4 L233.0,295.6 L231.2,293.0 L229.4,290.6 L227.6,288.5 L225.8,286.7 L224.1,285.2 L222.3,284.1 L220.5,283.4 L218.7,283.2 L217.0,283.3 L215.2,283.8 L213.4,284.8Z"/>
<path fill="url(#o2)" d="M213.4,281.7 L215.2,281.3 L217.0,281.1 L218.7,281.1 L220.5,281.2 L222.3,281.5 L224.1,281.9 L225.8,282.5 L227.6,283.3 L229.4,284.3 L231.2,285.5 L233.0,286.9 L234.7,288.5 L236.5,290.2 L238.3,292.2 L240.1,294.3 L241.8,296.6 L243.6,299.1 L245.4,301.7 L247.2,304.4 L249.0,307.2 L250.7,310.0 L252.5,312.9 L254.3,315.7 L256.1,318.4 L257.8,321.0 L259.6,323.4 L261.4,325.6 L263.2,327.6 L265.0,329.3 L266.7,330.6 L268.5,331.6 L270.3,332.3 L272.1,332.5 L273.8,332.4 L275.6,332.0 L277.4,331.2 L277.4,333.6 L275.6,334.0 L273.8,334.2 L272.1,334.2 L270.3,334.1 L268.5,333.8 L266.7,333.4 L265.0,332.8 L263.2,332.0 L261.4,331.0 L259.6,329.8 L257.8,328.4 L256.1,326.8 L254.3,325.1 L252.5,323.1 L250.7,321.0 L249.0,318.7 L247.2,316.2 L245.4,313.6 L243.6,310.9 L241.8,308.1 L240.1,305.3 L238.3,302.4 L236.5,299.6 L234.7,296.9 L233.0,294.3 L231.2,291.9 L229.4,289.7 L227.6,287.7 L225.8,286.0 L224.1,284.7 L222.3,283.7 L220.5,283.0 L218.7,282.8 L217.0,282.9 L215.2,283.4 L213.4,284.2Z"/>
<path fill="url(#o3)" d="M213.4,282.3 L215.2,281.8 L217.0,281.6 L218.7,281.5 L220.5,281.6 L222.3,282.0 L224.1,282.6 L225.8,283.3 L227.6,284.3 L229.4,285.5 L231.2,286.9 L233.0,288.5 L234.7,290.2 L236.5,292.2 L238.3,294.3 L240.1,296.6 L241.8,299.0 L243.6,301.5 L245.4,304.2 L247.2,306.9 L249.0,309.6 L250.7,312.3 L252.5,315.0 L254.3,317.7 L256.1,320.2 L257.8,322.6 L259.6,324.8 L261.4,326.8 L263.2,328.6 L265.0,330.1 L266.7,331.3 L268.5,332.2 L270.3,332.8 L272.1,333.0 L273.8,332.9 L275.6,332.5 L277.4,331.8 L277.4,333.0 L275.6,333.5 L273.8,333.7 L272.1,333.8 L270.3,333.7 L268.5,333.3 L266.7,332.7 L265.0,332.0 L263.2,331.0 L261.4,329.8 L259.6,328.4 L257.8,326.8 L256.1,325.1 L254.3,323.1 L252.5,321.0 L250.7,318.7 L249.0,316.3 L247.2,313.8 L245.4,311.1 L243.6,308.4 L241.8,305.7 L240.1,303.0 L238.3,300.3 L236.5,297.6 L234.7,295.1 L233.0,292.7 L231.2,290.5 L229.4,288.5 L227.6,286.7 L225.8,285.2 L224.1,284.0 L222.3,283.1 L220.5,282.5 L218.7,282.3 L217.0,282.4 L215.2,282.9 L213.4,283.6Z"/>
<path fill="url(#o1)" d="M323.6,281.1 L325.4,280.8 L327.2,280.7 L329.1,280.7 L330.9,280.8 L332.7,281.0 L334.5,281.4 L336.3,281.9 L338.1,282.5 L340.0,283.4 L341.8,284.4 L343.6,285.6 L345.4,287.0 L347.2,288.6 L349.0,290.5 L350.9,292.5 L352.7,294.7 L354.5,297.1 L356.3,299.7 L358.1,302.4 L359.9,305.2 L361.8,308.2 L363.6,311.1 L365.4,314.0 L367.2,316.9 L369.0,319.6 L370.8,322.2 L372.6,324.6 L374.5,326.7 L376.3,328.5 L378.1,330.0 L379.9,331.1 L381.7,331.8 L383.6,332.1 L385.4,332.0 L387.2,331.5 L389.0,330.6 L389.0,334.1 L387.2,334.4 L385.4,334.6 L383.6,334.6 L381.7,334.5 L379.9,334.3 L378.1,333.9 L376.3,333.4 L374.5,332.8 L372.6,331.9 L370.8,330.9 L369.0,329.7 L367.2,328.3 L365.4,326.7 L363.6,324.8 L361.8,322.8 L359.9,320.6 L358.1,318.2 L356.3,315.6 L354.5,312.9 L352.7,310.1 L350.9,307.1 L349.0,304.2 L347.2,301.3 L345.4,298.4 L343.6,295.7 L341.8,293.1 L340.0,290.7 L338.1,288.6 L336.3,286.8 L334.5,285.3 L332.7,284.2 L330.9,283.5 L329.1,283.2 L327.2,283.3 L325.4,283.8 L323.6,284.7Z"/>
<path fill="url(#o2)" d="M323.6,281.7 L325.4,281.3 L327.2,281.1 L329.1,281.1 L330.9,281.2 L332.7,281.5 L334.5,281.9 L336.3,282.6 L338.1,283.4 L340.0,284.4 L341.8,285.6 L343.6,286.9 L345.4,288.5 L347.2,290.3 L349.0,292.2 L350.9,294.3 L352.7,296.7 L354.5,299.1 L356.3,301.7 L358.1,304.4 L359.9,307.2 L361.8,310.0 L363.6,312.8 L365.4,315.6 L367.2,318.3 L369.0,320.9 L370.8,323.4 L372.6,325.6 L374.5,327.5 L376.3,329.2 L378.1,330.6 L379.9,331.6 L381.7,332.3 L383.6,332.5 L385.4,332.4 L387.2,332.0 L389.0,331.1 L389.0,333.6 L387.2,334.0 L385.4,334.2 L383.6,334.2 L381.7,334.1 L379.9,333.8 L378.1,333.4 L376.3,332.7 L374.5,331.9 L372.6,330.9 L370.8,329.7 L369.0,328.4 L367.2,326.8 L365.4,325.0 L363.6,323.1 L361.8,321.0 L359.9,318.6 L358.1,316.2 L356.3,313.6 L354.5,310.9 L352.7,308.1 L350.9,305.3 L349.0,302.5 L347.2,299.7 L345.4,297.0 L343.6,294.4 L341.8,291.9 L340.0,289.7 L338.1,287.8 L336.3,286.1 L334.5,284.7 L332.7,283.7 L330.9,283.0 L329.1,282.8 L327.2,282.9 L325.4,283.3 L323.6,284.1Z"/>
<path fill="url(#o3)" d="M323.6,282.3 L325.4,281.8 L327.2,281.6 L329.1,281.5 L330.9,281.7 L332.7,282.0 L334.5,282.6 L336.3,283.4 L338.1,284.4 L340.0,285.5 L341.8,286.9 L343.6,288.5 L345.4,290.3 L347.2,292.2 L349.0,294.3 L350.9,296.6 L352.7,299.0 L354.5,301.6 L356.3,304.2 L358.1,306.8 L359.9,309.6 L361.8,312.3 L363.6,315.0 L365.4,317.6 L367.2,320.1 L369.0,322.5 L370.8,324.7 L372.6,326.7 L374.5,328.5 L376.3,330.0 L378.1,331.2 L379.9,332.2 L381.7,332.7 L383.6,333.0 L385.4,332.9 L387.2,332.5 L389.0,331.7 L389.0,333.0 L387.2,333.5 L385.4,333.7 L383.6,333.8 L381.7,333.6 L379.9,333.3 L378.1,332.7 L376.3,331.9 L374.5,330.9 L372.6,329.8 L370.8,328.4 L369.0,326.8 L367.2,325.0 L365.4,323.1 L363.6,321.0 L361.8,318.7 L359.9,316.3 L358.1,313.7 L356.3,311.1 L354.5,308.5 L352.7,305.7 L350.9,303.0 L349.0,300.3 L347.2,297.7 L345.4,295.2 L343.6,292.8 L341.8,290.6 L340.0,288.6 L338.1,286.8 L336.3,285.3 L334.5,284.1 L332.7,283.1 L330.9,282.6 L329.1,282.3 L327.2,282.4 L325.4,282.8 L323.6,283.5Z"/>
<path fill="url(#o1)" d="M434.5,281.2 L436.1,280.9 L437.7,280.7 L439.3,280.7 L440.9,280.7 L442.5,280.8 L444.1,281.1 L445.7,281.5 L447.3,282.0 L448.9,282.7 L450.4,283.5 L452.0,284.5 L453.6,285.6 L455.2,286.9 L456.8,288.4 L458.4,290.0 L460.0,291.8 L461.6,293.8 L463.2,296.0 L464.8,298.3 L466.4,300.8 L468.0,303.3 L469.6,306.0 L471.2,308.7 L472.8,311.4 L474.4,314.1 L476.0,316.8 L477.5,319.3 L479.1,321.8 L480.7,324.0 L482.3,326.1 L483.9,327.8 L485.5,329.4 L487.1,330.9 L488.7,332.0 L490.3,332.8 L491.9,333.2 L491.9,333.6 L490.3,333.8 L488.7,333.8 L487.1,333.8 L485.5,333.7 L483.9,333.2 L482.3,332.5 L480.7,331.7 L479.1,330.7 L477.5,329.5 L476.0,328.2 L474.4,326.7 L472.8,325.1 L471.2,323.2 L469.6,321.2 L468.0,319.0 L466.4,316.7 L464.8,314.2 L463.2,311.6 L461.6,308.9 L460.0,306.2 L458.4,303.5 L456.8,300.8 L455.2,298.2 L453.6,295.6 L452.0,293.2 L450.4,291.0 L448.9,289.0 L447.3,287.2 L445.7,285.8 L444.1,284.6 L442.5,283.8 L440.9,283.3 L439.3,283.2 L437.7,283.4 L436.1,283.9 L434.5,284.7Z"/>
<path fill="url(#o2)" d="M434.5,281.7 L436.1,281.3 L437.7,281.1 L439.3,281.1 L440.9,281.1 L442.5,281.3 L444.1,281.6 L445.7,282.1 L447.3,282.8 L448.9,283.6 L450.4,284.5 L452.0,285.6 L453.6,286.9 L455.2,288.3 L456.8,290.0 L458.4,291.7 L460.0,293.7 L461.6,295.8 L463.2,298.0 L464.8,300.3 L466.4,302.8 L468.0,305.3 L469.6,307.9 L471.2,310.5 L472.8,313.2 L474.4,315.7 L476.0,318.3 L477.5,320.7 L479.1,322.9 L480.7,325.0 L482.3,326.9 L483.9,328.6 L485.5,330.0 L487.1,331.3 L488.7,332.3 L490.3,332.9 L491.9,333.3 L491.9,333.5 L490.3,333.6 L488.7,333.6 L487.1,333.4 L485.5,333.1 L483.9,332.4 L482.3,331.6 L480.7,330.7 L479.1,329.5 L477.5,328.2 L476.0,326.8 L474.4,325.1 L472.8,323.3 L471.2,321.4 L469.6,319.3 L468.0,317.0 L466.4,314.6 L464.8,312.2 L463.2,309.6 L461.6,307.0 L460.0,304.4 L458.4,301.8 L456.8,299.2 L455.2,296.7 L453.6,294.3 L452.0,292.1 L450.4,290.0 L448.9,288.1 L447.3,286.5 L445.7,285.2 L444.1,284.1 L442.5,283.3 L440.9,282.9 L439.3,282.8 L437.7,282.9 L436.1,283.4 L434.5,284.2Z"/>
<path fill="url(#o3)" d="M434.5,282.3 L436.1,281.9 L437.7,281.6 L439.3,281.5 L440.9,281.6 L442.5,281.8 L444.1,282.2 L445.7,282.8 L447.3,283.6 L448.9,284.6 L450.4,285.7 L452.0,287.0 L453.6,288.5 L455.2,290.1 L456.8,291.9 L458.4,293.8 L460.0,295.9 L461.6,298.1 L463.2,300.4 L464.8,302.8 L466.4,305.2 L468.0,307.7 L469.6,310.3 L471.2,312.8 L472.8,315.3 L474.4,317.7 L476.0,320.0 L477.5,322.3 L479.1,324.4 L480.7,326.3 L482.3,328.0 L483.9,329.5 L485.5,330.7 L487.1,331.8 L488.7,332.6 L490.3,333.1 L491.9,333.3 L491.9,333.5 L490.3,333.4 L488.7,333.2 L487.1,332.9 L485.5,332.4 L483.9,331.6 L482.3,330.6 L480.7,329.4 L479.1,328.1 L477.5,326.6 L476.0,325.0 L474.4,323.2 L472.8,321.2 L471.2,319.1 L469.6,316.9 L468.0,314.6 L466.4,312.2 L464.8,309.7 L463.2,307.2 L461.6,304.7 L460.0,302.2 L458.4,299.7 L456.8,297.3 L455.2,294.9 L453.6,292.7 L452.0,290.7 L450.4,288.8 L448.9,287.1 L447.3,285.7 L445.7,284.4 L444.1,283.5 L442.5,282.8 L440.9,282.4 L439.3,282.3 L437.7,282.5 L436.1,282.9 L434.5,283.6Z"/>
<path fill="url(#g1)" d="M79.2,281.7 L80.9,281.5 L82.6,281.4 L84.2,281.4 L85.9,281.6 L87.6,282.1 L89.3,282.8 L90.9,283.6 L92.6,284.6 L94.3,285.7 L96.0,287.0 L97.7,288.5 L99.3,290.1 L101.0,292.0 L102.7,294.0 L104.4,296.2 L106.0,298.5 L107.7,300.9 L109.4,303.5 L111.1,306.1 L112.8,308.8 L114.4,311.5 L116.1,314.2 L117.8,316.9 L119.5,319.4 L121.1,321.8 L122.8,324.0 L124.5,326.1 L126.2,327.9 L127.9,329.4 L129.5,330.6 L131.2,331.4 L132.9,332.0 L134.6,332.1 L136.2,332.0 L137.9,331.4 L139.6,330.4 L139.6,334.1 L137.9,334.4 L136.2,334.6 L134.6,334.6 L132.9,334.6 L131.2,334.4 L129.5,334.1 L127.9,333.7 L126.2,333.2 L124.5,332.5 L122.8,331.7 L121.1,330.7 L119.5,329.6 L117.8,328.3 L116.1,326.8 L114.4,325.1 L112.8,323.3 L111.1,321.3 L109.4,319.1 L107.7,316.8 L106.0,314.3 L104.4,311.8 L102.7,309.1 L101.0,306.4 L99.3,303.7 L97.7,301.0 L96.0,298.4 L94.3,295.9 L92.6,293.4 L90.9,291.2 L89.3,289.2 L87.6,287.4 L85.9,285.9 L84.2,284.5 L82.6,283.3 L80.9,282.5 L79.2,282.1Z"/>
<path fill="url(#g2)" d="M79.2,281.8 L80.9,281.7 L82.6,281.7 L84.2,281.9 L85.9,282.2 L87.6,282.8 L89.3,283.6 L90.9,284.6 L92.6,285.7 L94.3,287.0 L96.0,288.5 L97.7,290.1 L99.3,291.9 L101.0,293.8 L102.7,295.9 L104.4,298.1 L106.0,300.5 L107.7,302.9 L109.4,305.4 L111.1,308.0 L112.8,310.6 L114.4,313.3 L116.1,315.8 L117.8,318.3 L119.5,320.7 L121.1,323.0 L122.8,325.1 L124.5,326.9 L126.2,328.6 L127.9,330.0 L129.5,331.1 L131.2,331.9 L132.9,332.4 L134.6,332.5 L136.2,332.4 L137.9,331.8 L139.6,331.0 L139.6,333.6 L137.9,333.9 L136.2,334.2 L134.6,334.2 L132.9,334.2 L131.2,334.0 L129.5,333.6 L127.9,333.1 L126.2,332.4 L124.5,331.6 L122.8,330.7 L121.1,329.5 L119.5,328.3 L117.8,326.8 L116.1,325.2 L114.4,323.4 L112.8,321.4 L111.1,319.4 L109.4,317.1 L107.7,314.8 L106.0,312.3 L104.4,309.8 L102.7,307.2 L101.0,304.6 L99.3,302.0 L97.7,299.4 L96.0,296.9 L94.3,294.5 L92.6,292.3 L90.9,290.2 L89.3,288.3 L87.6,286.7 L85.9,285.3 L84.2,284.0 L82.6,283.0 L80.9,282.4 L79.2,282.0Z"/>
<path fill="url(#g3)" d="M79.2,281.8 L80.9,281.8 L82.6,282.0 L84.2,282.4 L85.9,282.9 L87.6,283.7 L89.3,284.7 L90.9,285.8 L92.6,287.1 L94.3,288.6 L96.0,290.3 L97.7,292.1 L99.3,294.0 L101.0,296.1 L102.7,298.2 L104.4,300.5 L106.0,302.9 L107.7,305.4 L109.4,307.9 L111.1,310.4 L112.8,312.9 L114.4,315.4 L116.1,317.8 L117.8,320.1 L119.5,322.3 L121.1,324.4 L122.8,326.3 L124.5,328.0 L126.2,329.5 L127.9,330.7 L129.5,331.7 L131.2,332.4 L132.9,332.8 L134.6,333.0 L136.2,332.8 L137.9,332.4 L139.6,331.6 L139.6,332.9 L137.9,333.4 L136.2,333.7 L134.6,333.8 L132.9,333.7 L131.2,333.4 L129.5,333.0 L127.9,332.4 L126.2,331.6 L124.5,330.6 L122.8,329.4 L121.1,328.1 L119.5,326.7 L117.8,325.0 L116.1,323.2 L114.4,321.3 L112.8,319.2 L111.1,317.0 L109.4,314.7 L107.7,312.3 L106.0,309.9 L104.4,307.4 L102.7,304.9 L101.0,302.4 L99.3,299.9 L97.7,297.5 L96.0,295.1 L94.3,292.9 L92.6,290.9 L90.9,289.0 L89.3,287.3 L87.6,285.8 L85.9,284.6 L84.2,283.5 L82.6,282.7 L80.9,282.2 L79.2,282.0Z"/>
<path fill="url(#g1)" d="M182.3,281.2 L184.1,280.9 L185.9,280.7 L187.6,280.7 L189.4,280.7 L191.2,281.0 L193.0,281.3 L194.8,281.8 L196.5,282.5 L198.3,283.4 L200.1,284.4 L201.9,285.6 L203.7,287.0 L205.4,288.6 L207.2,290.4 L209.0,292.5 L210.8,294.7 L212.6,297.1 L214.4,299.7 L216.1,302.4 L217.9,305.3 L219.7,308.2 L221.5,311.1 L223.3,314.1 L225.0,316.9 L226.8,319.7 L228.6,322.3 L230.4,324.7 L232.2,326.8 L233.9,328.6 L235.7,330.1 L237.5,331.2 L239.3,331.9 L241.1,332.1 L242.8,332.0 L244.6,331.4 L246.4,330.4 L246.4,334.1 L244.6,334.4 L242.8,334.6 L241.1,334.6 L239.3,334.6 L237.5,334.3 L235.7,334.0 L233.9,333.5 L232.2,332.8 L230.4,331.9 L228.6,330.9 L226.8,329.7 L225.0,328.3 L223.3,326.7 L221.5,324.9 L219.7,322.8 L217.9,320.6 L216.1,318.2 L214.4,315.6 L212.6,312.9 L210.8,310.0 L209.0,307.1 L207.2,304.2 L205.4,301.2 L203.7,298.4 L201.9,295.6 L200.1,293.0 L198.3,290.6 L196.5,288.5 L194.8,286.7 L193.0,285.2 L191.2,284.1 L189.4,283.4 L187.6,283.2 L185.9,283.3 L184.1,283.9 L182.3,284.9Z"/>
<path fill="url(#g2)" d="M182.3,281.7 L184.1,281.3 L185.9,281.1 L187.6,281.1 L189.4,281.2 L191.2,281.5 L193.0,281.9 L194.8,282.5 L196.5,283.3 L198.3,284.3 L200.1,285.5 L201.9,286.9 L203.7,288.5 L205.4,290.2 L207.2,292.2 L209.0,294.3 L210.8,296.6 L212.6,299.1 L214.4,301.7 L216.1,304.4 L217.9,307.2 L219.7,310.0 L221.5,312.9 L223.3,315.7 L225.0,318.4 L226.8,321.0 L228.6,323.4 L230.4,325.6 L232.2,327.6 L233.9,329.3 L235.7,330.6 L237.5,331.6 L239.3,332.3 L241.1,332.5 L242.8,332.4 L244.6,331.9 L246.4,330.9 L246.4,333.5 L244.6,334.0 L242.8,334.2 L241.1,334.2 L239.3,334.1 L237.5,333.8 L235.7,333.4 L233.9,332.8 L232.2,332.0 L230.4,331.0 L228.6,329.8 L226.8,328.4 L225.0,326.8 L223.3,325.1 L221.5,323.1 L219.7,321.0 L217.9,318.7 L216.1,316.2 L214.4,313.6 L212.6,310.9 L210.8,308.1 L209.0,305.3 L207.2,302.4 L205.4,299.6 L203.7,296.9 L201.9,294.3 L200.1,291.9 L198.3,289.7 L196.5,287.7 L194.8,286.0 L193.0,284.7 L191.2,283.7 L189.4,283.0 L187.6,282.8 L185.9,282.9 L184.1,283.4 L182.3,284.3Z"/>
<path fill="url(#g3)" d="M182.3,282.4 L184.1,281.9 L185.9,281.6 L187.6,281.5 L189.4,281.6 L191.2,282.0 L193.0,282.6 L194.8,283.3 L196.5,284.3 L198.3,285.5 L200.1,286.9 L201.9,288.5 L203.7,290.2 L205.4,292.2 L207.2,294.3 L209.0,296.6 L210.8,299.0 L212.6,301.5 L214.4,304.2 L216.1,306.9 L217.9,309.6 L219.7,312.3 L221.5,315.0 L223.3,317.6 L225.0,320.2 L226.8,322.6 L228.6,324.8 L230.4,326.8 L232.2,328.6 L233.9,330.1 L235.7,331.3 L237.5,332.2 L239.3,332.8 L241.1,333.0 L242.8,332.9 L244.6,332.4 L246.4,331.6 L246.4,332.9 L244.6,333.4 L242.8,333.7 L241.1,333.8 L239.3,333.7 L237.5,333.3 L235.7,332.7 L233.9,332.0 L232.2,331.0 L230.4,329.8 L228.6,328.4 L226.8,326.8 L225.0,325.1 L223.3,323.1 L221.5,321.0 L219.7,318.7 L217.9,316.3 L216.1,313.8 L214.4,311.1 L212.6,308.4 L210.8,305.7 L209.0,303.0 L207.2,300.3 L205.4,297.7 L203.7,295.1 L201.9,292.7 L200.1,290.5 L198.3,288.5 L196.5,286.7 L194.8,285.2 L193.0,284.0 L191.2,283.1 L189.4,282.5 L187.6,282.3 L185.9,282.4 L184.1,282.9 L182.3,283.7Z"/>
<path fill="url(#g1)" d="M288.5,281.2 L290.4,280.9 L292.3,280.7 L294.2,280.7 L296.1,280.8 L298.0,281.0 L299.9,281.4 L301.7,281.9 L303.6,282.6 L305.5,283.4 L307.4,284.5 L309.3,285.7 L311.2,287.1 L313.1,288.7 L315.0,290.5 L316.9,292.5 L318.8,294.7 L320.7,297.1 L322.6,299.7 L324.4,302.4 L326.3,305.2 L328.2,308.1 L330.1,311.0 L332.0,313.9 L333.9,316.8 L335.8,319.5 L337.7,322.1 L339.6,324.4 L341.5,326.6 L343.4,328.4 L345.2,329.9 L347.1,331.0 L349.0,331.8 L350.9,332.1 L352.8,332.1 L354.7,331.6 L356.6,330.6 L356.6,334.2 L354.7,334.5 L352.8,334.6 L350.9,334.6 L349.0,334.5 L347.1,334.3 L345.2,333.9 L343.4,333.4 L341.5,332.7 L339.6,331.9 L337.7,330.8 L335.8,329.6 L333.9,328.2 L332.0,326.6 L330.1,324.8 L328.2,322.8 L326.3,320.6 L324.4,318.2 L322.6,315.6 L320.7,312.9 L318.8,310.1 L316.9,307.2 L315.0,304.3 L313.1,301.4 L311.2,298.5 L309.3,295.8 L307.4,293.2 L305.5,290.9 L303.6,288.7 L301.7,286.9 L299.9,285.4 L298.0,284.3 L296.1,283.5 L294.2,283.2 L292.3,283.3 L290.4,283.8 L288.5,284.9Z"/>
<path fill="url(#g2)" d="M288.5,281.8 L290.4,281.3 L292.3,281.1 L294.2,281.1 L296.1,281.2 L298.0,281.5 L299.9,282.0 L301.7,282.6 L303.6,283.4 L305.5,284.4 L307.4,285.6 L309.3,287.0 L311.2,288.6 L313.1,290.3 L315.0,292.3 L316.9,294.4 L318.8,296.7 L320.7,299.1 L322.6,301.7 L324.4,304.4 L326.3,307.1 L328.2,310.0 L330.1,312.8 L332.0,315.5 L333.9,318.2 L335.8,320.8 L337.7,323.2 L339.6,325.4 L341.5,327.4 L343.4,329.1 L345.2,330.5 L347.1,331.5 L349.0,332.2 L350.9,332.5 L352.8,332.5 L354.7,332.0 L356.6,331.1 L356.6,333.6 L354.7,334.0 L352.8,334.2 L350.9,334.2 L349.0,334.1 L347.1,333.8 L345.2,333.3 L343.4,332.7 L341.5,331.9 L339.6,330.9 L337.7,329.7 L335.8,328.3 L333.9,326.7 L332.0,325.0 L330.1,323.0 L328.2,320.9 L326.3,318.6 L324.4,316.2 L322.6,313.6 L320.7,310.9 L318.8,308.2 L316.9,305.3 L315.0,302.5 L313.1,299.8 L311.2,297.1 L309.3,294.5 L307.4,292.1 L305.5,289.9 L303.6,287.9 L301.7,286.2 L299.9,284.8 L298.0,283.8 L296.1,283.1 L294.2,282.8 L292.3,282.8 L290.4,283.4 L288.5,284.4Z"/>
<path fill="url(#g3)" d="M288.5,282.4 L290.4,281.8 L292.3,281.6 L294.2,281.5 L296.1,281.7 L298.0,282.1 L299.9,282.7 L301.7,283.4 L303.6,284.4 L305.5,285.6 L307.4,287.0 L309.3,288.6 L311.2,290.4 L313.1,292.3 L315.0,294.4 L316.9,296.7 L318.8,299.1 L320.7,301.6 L322.6,304.2 L324.4,306.8 L326.3,309.5 L328.2,312.2 L330.1,314.9 L332.0,317.5 L333.9,320.0 L335.8,322.4 L337.7,324.6 L339.6,326.6 L341.5,328.4 L343.4,329.9 L345.2,331.1 L347.1,332.1 L349.0,332.7 L350.9,333.0 L352.8,332.9 L354.7,332.5 L356.6,331.8 L356.6,333.0 L354.7,333.5 L352.8,333.8 L350.9,333.8 L349.0,333.6 L347.1,333.2 L345.2,332.6 L343.4,331.9 L341.5,330.9 L339.6,329.7 L337.7,328.3 L335.8,326.7 L333.9,324.9 L332.0,323.0 L330.1,320.9 L328.2,318.6 L326.3,316.2 L324.4,313.7 L322.6,311.1 L320.7,308.5 L318.8,305.8 L316.9,303.1 L315.0,300.4 L313.1,297.8 L311.2,295.3 L309.3,292.9 L307.4,290.7 L305.5,288.7 L303.6,286.9 L301.7,285.4 L299.9,284.2 L298.0,283.2 L296.1,282.6 L294.2,282.3 L292.3,282.4 L290.4,282.9 L288.5,283.7Z"/>
<path fill="url(#g1)" d="M402.5,281.1 L404.2,280.9 L405.9,280.7 L407.7,280.7 L409.4,280.7 L411.1,280.9 L412.9,281.3 L414.6,281.8 L416.3,282.5 L418.0,283.3 L419.8,284.3 L421.5,285.5 L423.2,286.9 L424.9,288.6 L426.7,290.4 L428.4,292.4 L430.1,294.7 L431.8,297.1 L433.6,299.7 L435.3,302.4 L437.0,305.3 L438.7,308.2 L440.5,311.2 L442.2,314.2 L443.9,317.0 L445.6,319.8 L447.4,322.4 L449.1,324.8 L450.8,326.9 L452.5,328.7 L454.2,330.1 L456.0,331.2 L457.7,331.9 L459.4,332.1 L461.2,332.0 L462.9,331.5 L464.6,330.6 L464.6,334.2 L462.9,334.4 L461.2,334.6 L459.4,334.6 L457.7,334.6 L456.0,334.4 L454.2,334.0 L452.5,333.5 L450.8,332.8 L449.1,332.0 L447.4,331.0 L445.6,329.8 L443.9,328.4 L442.2,326.7 L440.5,324.9 L438.7,322.9 L437.0,320.6 L435.3,318.2 L433.6,315.6 L431.8,312.9 L430.1,310.0 L428.4,307.1 L426.7,304.1 L424.9,301.1 L423.2,298.3 L421.5,295.5 L419.8,292.9 L418.0,290.5 L416.3,288.4 L414.6,286.6 L412.9,285.2 L411.1,284.1 L409.4,283.4 L407.7,283.2 L405.9,283.3 L404.2,283.8 L402.5,284.7Z"/>
<path fill="url(#g2)" d="M402.5,281.7 L404.2,281.3 L405.9,281.1 L407.7,281.1 L409.4,281.2 L411.1,281.4 L412.9,281.9 L414.6,282.5 L416.3,283.3 L418.0,284.3 L419.8,285.5 L421.5,286.8 L423.2,288.4 L424.9,290.2 L426.7,292.1 L428.4,294.3 L430.1,296.6 L431.8,299.1 L433.6,301.7 L435.3,304.4 L437.0,307.2 L438.7,310.1 L440.5,312.9 L442.2,315.8 L443.9,318.5 L445.6,321.1 L447.4,323.5 L449.1,325.7 L450.8,327.7 L452.5,329.4 L454.2,330.7 L456.0,331.7 L457.7,332.3 L459.4,332.5 L461.2,332.4 L462.9,331.9 L464.6,331.1 L464.6,333.6 L462.9,334.0 L461.2,334.2 L459.4,334.2 L457.7,334.1 L456.0,333.9 L454.2,333.4 L452.5,332.8 L450.8,332.0 L449.1,331.0 L447.4,329.8 L445.6,328.5 L443.9,326.9 L442.2,325.1 L440.5,323.2 L438.7,321.0 L437.0,318.7 L435.3,316.2 L433.6,313.6 L431.8,310.9 L430.1,308.1 L428.4,305.2 L426.7,302.4 L424.9,299.5 L423.2,296.8 L421.5,294.2 L419.8,291.8 L418.0,289.6 L416.3,287.6 L414.6,285.9 L412.9,284.6 L411.1,283.6 L409.4,283.0 L407.7,282.8 L405.9,282.9 L404.2,283.4 L402.5,284.2Z"/>
<path fill="url(#g3)" d="M402.5,282.3 L404.2,281.8 L405.9,281.6 L407.7,281.5 L409.4,281.6 L411.1,282.0 L412.9,282.5 L414.6,283.3 L416.3,284.3 L418.0,285.4 L419.8,286.8 L421.5,288.4 L423.2,290.2 L424.9,292.1 L426.7,294.3 L428.4,296.6 L430.1,299.0 L431.8,301.5 L433.6,304.2 L435.3,306.9 L437.0,309.6 L438.7,312.4 L440.5,315.1 L442.2,317.7 L443.9,320.3 L445.6,322.7 L447.4,324.9 L449.1,326.9 L450.8,328.7 L452.5,330.2 L454.2,331.4 L456.0,332.2 L457.7,332.8 L459.4,333.0 L461.2,332.9 L462.9,332.5 L464.6,331.8 L464.6,333.0 L462.9,333.5 L461.2,333.7 L459.4,333.8 L457.7,333.7 L456.0,333.3 L454.2,332.8 L452.5,332.0 L450.8,331.0 L449.1,329.9 L447.4,328.5 L445.6,326.9 L443.9,325.1 L442.2,323.2 L440.5,321.0 L438.7,318.7 L437.0,316.3 L435.3,313.8 L433.6,311.1 L431.8,308.4 L430.1,305.7 L428.4,302.9 L426.7,300.2 L424.9,297.6 L423.2,295.0 L421.5,292.6 L419.8,290.4 L418.0,288.4 L416.3,286.6 L414.6,285.1 L412.9,283.9 L411.1,283.1 L409.4,282.5 L407.7,282.3 L405.9,282.4 L404.2,282.8 L402.5,283.5Z"/>
</g>
<path fill="#0f960f" d="M289,349 L295.6,349 L295.6,459.6 L302.6,459.6 L292.3,479.2 L282.2,459.6 L289,459.6Z"/>
<g>
<line x1="239.9" y1="573.8" x2="242.7" y2="579.4" stroke="#2e7d5b" stroke-width="3.2" stroke-linecap="round"/>
<circle cx="241.3" cy="576.6" r="0.8" fill="#2a1a10" opacity="0.55"/>
<line x1="248.2" y1="569.6" x2="251.0" y2="575.3" stroke="#d4b82a" stroke-width="3.2" stroke-linecap="round"/>
<circle cx="249.6" cy="572.5" r="0.8" fill="#2a1a10" opacity="0.55"/>
<line x1="256.5" y1="565.5" x2="259.3" y2="571.2" stroke="#1c2aa0" stroke-width="3.2" stroke-linecap="round"/>
<circle cx="257.9" cy="568.4" r="0.8" fill="#2a1a10" opacity="0.55"/>
<line x1="264.7" y1="561.4" x2="267.5" y2="567.1" stroke="#e0381c" stroke-width="3.2" stroke-linecap="round"/>
<circle cx="266.1" cy="564.2" r="0.8" fill="#2a1a10" opacity="0.55"/>
<line x1="273.0" y1="557.3" x2="275.8" y2="563.0" stroke="#e0381c" stroke-width="3.2" stroke-linecap="round"/>
<circle cx="274.4" cy="560.1" r="0.8" fill="#2a1a10" opacity="0.55"/>
<line x1="281.3" y1="553.2" x2="284.1" y2="558.8" stroke="#2e7d5b" stroke-width="3.2" stroke-linecap="round"/>
<circle cx="282.7" cy="556.0" r="0.8" fill="#2a1a10" opacity="0.55"/>
<line x1="289.5" y1="549.1" x2="292.3" y2="554.7" stroke="#d4b82a" stroke-width="3.2" stroke-linecap="round"/>
<circle cx="290.9" cy="551.9" r="0.8" fill="#2a1a10" opacity="0.55"/>
<line x1="297.8" y1="545.0" x2="300.6" y2="550.6" stroke="#1c2aa0" stroke-width="3.2" stroke-linecap="round"/>
<circle cx="299.2" cy="547.8" r="0.8" fill="#2a1a10" opacity="0.55"/>
<line x1="306.0" y1="540.9" x2="308.9" y2="546.5" stroke="#e0381c" stroke-width="3.2" stroke-linecap="round"/>
<circle cx="307.5" cy="543.7" r="0.8" fill="#2a1a10" opacity="0.55"/>
<line x1="314.3" y1="536.8" x2="317.1" y2="542.4" stroke="#2e7d5b" stroke-width="3.2" stroke-linecap="round"/>
<circle cx="315.7" cy="539.6" r="0.8" fill="#2a1a10" opacity="0.55"/>
<line x1="322.6" y1="532.7" x2="325.4" y2="538.3" stroke="#d4b82a" stroke-width="3.2" stroke-linecap="round"/>
<circle cx="324.0" cy="535.5" r="0.8" fill="#2a1a10" opacity="0.55"/>
<line x1="330.8" y1="528.5" x2="333.6" y2="534.2" stroke="#1c2aa0" stroke-width="3.2" stroke-linecap="round"/>
<circle cx="332.2" cy="531.4" r="0.8" fill="#2a1a10" opacity="0.55"/>
<line x1="339.1" y1="524.4" x2="341.9" y2="530.1" stroke="#e0381c" stroke-width="3.2" stroke-linecap="round"/>
<circle cx="340.5" cy="527.3" r="0.8" fill="#2a1a10" opacity="0.55"/>
<line x1="373.8" y1="506.1" x2="376.0" y2="512.2" stroke="#e0381c" stroke-width="3.2" stroke-linecap="round"/>
<circle cx="374.9" cy="509.1" r="0.8" fill="#2a1a10" opacity="0.55"/>
<line x1="383.5" y1="500.9" x2="385.7" y2="507.0" stroke="#1c2aa0" stroke-width="3.2" stroke-linecap="round"/>
<circle cx="384.6" cy="503.9" r="0.8" fill="#2a1a10" opacity="0.55"/>
<line x1="393.1" y1="495.7" x2="395.3" y2="501.8" stroke="#d4b82a" stroke-width="3.2" stroke-linecap="round"/>
<circle cx="394.2" cy="498.8" r="0.8" fill="#2a1a10" opacity="0.55"/>
<line x1="401.9" y1="491.0" x2="404.1" y2="497.1" stroke="#2e7d5b" stroke-width="3.2" stroke-linecap="round"/>
<circle cx="403.0" cy="494.0" r="0.8" fill="#2a1a10" opacity="0.55"/>
<line x1="460.4" y1="459.6" x2="462.6" y2="465.7" stroke="#e0381c" stroke-width="3.2" stroke-linecap="round"/>
<circle cx="461.5" cy="462.7" r="0.8" fill="#2a1a10" opacity="0.55"/>
<line x1="469.2" y1="454.9" x2="471.4" y2="461.0" stroke="#1c2aa0" stroke-width="3.2" stroke-linecap="round"/>
<circle cx="470.3" cy="457.9" r="0.8" fill="#2a1a10" opacity="0.55"/>
<line x1="478.0" y1="450.2" x2="480.2" y2="456.3" stroke="#d4b82a" stroke-width="3.2" stroke-linecap="round"/>
<circle cx="479.1" cy="453.2" r="0.8" fill="#2a1a10" opacity="0.55"/>
<line x1="487.6" y1="445.0" x2="489.8" y2="451.1" stroke="#2e7d5b" stroke-width="3.2" stroke-linecap="round"/>
<circle cx="488.7" cy="448.1" r="0.8" fill="#2a1a10" opacity="0.55"/>
<line x1="344.0" y1="516.5" x2="349.5" y2="519.2" stroke="#2e7d5b" stroke-width="3.2" stroke-linecap="round"/>
<circle cx="346.8" cy="517.9" r="0.8" fill="#2a1a10" opacity="0.55"/>
<line x1="361.2" y1="508.6" x2="358.6" y2="514.2" stroke="#1c2aa0" stroke-width="3.2" stroke-linecap="round"/>
<circle cx="359.9" cy="511.4" r="0.8" fill="#2a1a10" opacity="0.55"/>
<line x1="326.6" y1="485.9" x2="327.5" y2="479.7" stroke="#2e7d5b" stroke-width="3.1" stroke-linecap="round"/>
<circle cx="327.0" cy="482.8" r="0.8" fill="#2a1a10" opacity="0.55"/>
<line x1="317.5" y1="481.9" x2="321.4" y2="477.0" stroke="#e0381c" stroke-width="3.1" stroke-linecap="round"/>
<circle cx="319.4" cy="479.4" r="0.8" fill="#2a1a10" opacity="0.55"/>
<line x1="312.0" y1="474.8" x2="317.7" y2="472.2" stroke="#e0381c" stroke-width="3.1" stroke-linecap="round"/>
<circle cx="314.8" cy="473.5" r="0.8" fill="#2a1a10" opacity="0.55"/>
<line x1="310.3" y1="466.0" x2="316.6" y2="466.3" stroke="#d4b82a" stroke-width="3.1" stroke-linecap="round"/>
<circle cx="313.5" cy="466.2" r="0.8" fill="#2a1a10" opacity="0.55"/>
<line x1="312.5" y1="458.0" x2="318.1" y2="461.0" stroke="#1c2aa0" stroke-width="3.1" stroke-linecap="round"/>
<circle cx="315.3" cy="459.5" r="0.8" fill="#2a1a10" opacity="0.55"/>
<line x1="317.4" y1="452.2" x2="321.3" y2="457.1" stroke="#1c2aa0" stroke-width="3.1" stroke-linecap="round"/>
<circle cx="319.4" cy="454.6" r="0.8" fill="#2a1a10" opacity="0.55"/>
<line x1="324.5" y1="448.6" x2="326.1" y2="454.6" stroke="#e0381c" stroke-width="3.1" stroke-linecap="round"/>
<circle cx="325.3" cy="451.6" r="0.8" fill="#2a1a10" opacity="0.55"/>
<line x1="332.2" y1="448.1" x2="331.3" y2="454.3" stroke="#1c2aa0" stroke-width="3.1" stroke-linecap="round"/>
<circle cx="331.8" cy="451.2" r="0.8" fill="#2a1a10" opacity="0.55"/>
<line x1="340.0" y1="451.1" x2="336.5" y2="456.4" stroke="#d4b82a" stroke-width="3.1" stroke-linecap="round"/>
<circle cx="338.2" cy="453.7" r="0.8" fill="#2a1a10" opacity="0.55"/>
<line x1="346.3" y1="458.0" x2="340.7" y2="461.0" stroke="#2e7d5b" stroke-width="3.1" stroke-linecap="round"/>
<circle cx="343.5" cy="459.5" r="0.8" fill="#2a1a10" opacity="0.55"/>
<line x1="348.5" y1="467.0" x2="342.2" y2="467.0" stroke="#e0381c" stroke-width="3.1" stroke-linecap="round"/>
<circle cx="345.4" cy="467.0" r="0.8" fill="#2a1a10" opacity="0.55"/>
<line x1="346.5" y1="475.6" x2="340.8" y2="472.7" stroke="#2e7d5b" stroke-width="3.1" stroke-linecap="round"/>
<circle cx="343.7" cy="474.1" r="0.8" fill="#2a1a10" opacity="0.55"/>
<line x1="334.2" y1="490.7" x2="340.4" y2="488.3" stroke="#1c2aa0" stroke-width="2.8"/>
<line x1="340.4" y1="488.3" x2="346.6" y2="485.9" stroke="#e0381c" stroke-width="2.8"/>
<line x1="338.7" y1="498.7" x2="344.6" y2="496.4" stroke="#1c2aa0" stroke-width="2.8"/>
<line x1="344.6" y1="496.4" x2="350.6" y2="494.1" stroke="#e0381c" stroke-width="2.8"/>
<line x1="343.3" y1="505.9" x2="348.9" y2="503.6" stroke="#d4b82a" stroke-width="2.8"/>
<line x1="348.9" y1="503.6" x2="354.6" y2="501.3" stroke="#2e7d5b" stroke-width="2.8"/>
<path d="M233.8,574.9 L340.8,521.7 L343.0,512.7 L331.2,487.9 A21.0,21.0 0 1 1 345.9,479.9 L359.0,504.7 L366.8,507.7 L490.2,441.5" fill="none" stroke="#a9a9a9" stroke-width="2.6" stroke-linejoin="round"/>
<path d="M233.8,574.9 L340.8,521.7 L343.0,512.7 L331.2,487.9 A21.0,21.0 0 1 1 345.9,479.9 L359.0,504.7 L366.8,507.7 L490.2,441.5" fill="none" stroke="#4a2020" stroke-width="1.5" stroke-linecap="round" stroke-dasharray="0.3 3.85" opacity="0.6" stroke-linejoin="round"/>
</g>
<ellipse cx="434.8" cy="483.7" rx="33.5" ry="27.2" fill="url(#ezh)"/>
<text x="435.6" y="490.6" font-size="16" font-weight="bold" text-anchor="middle" >EZH2</text>
<text x="246.5" y="536" font-size="16" font-weight="bold" text-anchor="start" >HULC</text>
<path d="M468.1,504.5 C505,504 547,512 556.8,553.5" fill="none" stroke="#e60f0f" stroke-width="2.8"/>
<rect x="550.4" y="552.6" width="12.6" height="3.4" fill="#e60f0f"/>
<text x="461.6" y="558.6" font-size="16" font-weight="bold" text-anchor="start" >NKD2</text>
<path d="M510,544.6 L510,558.2 M506.1,554 L510,558.6 L513.9,554" fill="none" stroke="#111" stroke-width="1.7"/>
<path d="M458.7,570.2 L459.4,570.3 L460.1,570.6 L460.8,571.2 L461.5,571.9 L462.2,572.7 L462.9,573.7 L463.6,574.8 L464.3,576.0 L465.0,577.1 L465.7,578.3 L466.4,579.3 L467.1,580.3 L467.8,581.1 L468.5,581.8 L469.2,582.3 L469.9,582.5 L470.6,582.6 L471.3,582.4 L472.0,582.0 L472.7,581.5 L473.4,580.7 L474.1,579.8 L474.8,578.8 L475.5,577.7 L476.2,576.5 L476.9,575.3 L477.6,574.2 L478.3,573.2 L479.0,572.2 L479.7,571.5 L480.4,570.8 L481.1,570.4 L481.8,570.2 L482.5,570.2 L483.2,570.5 L483.9,570.9 L484.6,571.5 L485.3,572.3 L486.0,573.3 L486.7,574.3 L487.4,575.4 L488.1,576.6 L488.8,577.8 L489.5,578.9 L490.2,579.9 L490.9,580.8 L491.6,581.5 L492.3,582.1 L493.0,582.4 L493.7,582.6 L494.4,582.5 L495.1,582.2 L495.8,581.8 L496.5,581.1 L497.2,580.2 L497.9,579.3 L498.6,578.2 L499.3,577.0 L500.0,575.9 L500.7,574.7 L501.4,573.6 L502.1,572.7 L502.8,571.8 L503.5,571.1 L504.2,570.6 L504.9,570.3 L505.6,570.2 L506.3,570.3 L507.0,570.7 L507.7,571.2 L508.4,571.9 L509.1,572.8 L509.8,573.8 L510.5,574.9 L511.2,576.1 L511.9,577.2 L512.6,578.4 L513.3,579.4 L514.0,580.4 L514.7,581.2 L515.4,581.9 L516.1,582.3 L516.8,582.6 L517.5,582.6 L518.2,582.4 L518.9,582.0 L519.6,581.4 L520.3,580.6 L521.0,579.7 L521.7,578.7 L522.4,577.6 L523.1,576.4 L523.8,575.3 L524.5,574.1 L525.2,573.1 L525.9,572.2 L526.6,571.4 L527.3,570.8 L528.0,570.4 L528.7,570.2 L529.4,570.2 L530.1,570.5 L530.8,570.9 L531.5,571.6 L532.2,572.4 L532.9,573.4 L533.6,574.4 L534.3,575.5 L535.0,576.7 L535.7,577.9 L536.4,579.0 L537.1,580.0 L537.8,580.9 L538.5,581.6 L539.2,582.1 L539.9,582.5 L540.6,582.6 L541.3,582.5 L542.0,582.2 L542.7,581.7 L543.4,581.0 L544.1,580.2 L544.8,579.2 L545.5,578.1 L546.2,576.9 L546.9,575.8 L547.6,574.6 L548.3,573.6 L549.0,572.6 L549.7,571.7 L550.4,571.1 L551.1,570.6 L551.8,570.3 L552.5,570.2 L553.2,570.3 L553.9,570.7 L554.6,571.3 L555.3,572.0 L556.0,572.9 L556.7,573.9 L557.4,575.0 L558.1,576.2 L558.8,577.3 L559.5,578.5 L560.2,579.5 L560.9,580.5 L561.6,581.3 L562.3,581.9 L563.0,582.3 L563.7,582.6 L564.4,582.6 L565.1,582.4 L565.8,582.0 L566.5,581.3 L567.2,580.6 L567.9,579.6 L568.6,578.6 L569.3,577.5 L570.0,576.3 L570.7,575.2 L571.4,574.0 L572.1,573.0 L572.8,572.1 L573.5,571.3 L574.2,570.8 L574.9,570.4 L575.6,570.2 L576.3,570.3 L577.0,570.5 L577.7,571.0 L578.4,571.6 L579.1,572.5 L579.8,573.4 L580.5,574.5 L581.2,575.6 L581.9,576.8 L582.6,578.0 L583.3,579.0 L584.0,580.0 L584.7,580.9 L585.4,581.6 L586.1,582.2 L586.8,582.5 L587.5,582.6 L588.2,582.5 L588.9,582.2 L589.6,581.7 L590.3,580.9 L591.0,580.1 L591.7,579.1 L592.4,578.0 L593.1,576.8 L593.8,575.7 L594.5,574.5 L595.2,573.5 L595.9,572.5 L596.6,571.7 L597.3,571.0 L598.0,570.5 L598.7,570.3 L599.4,570.2 L600.1,570.4 L600.8,570.7 L601.5,571.3 L602.2,572.1 L602.9,573.0 L603.6,574.0 L604.3,575.1 L605.0,576.3 L605.7,577.4 L606.4,578.6 L607.1,579.6 L607.8,580.5 L608.5,581.3 L609.2,581.9 L609.9,582.4 L610.6,582.6 L611.3,582.6 L612.0,582.3 L612.7,581.9 L613.4,581.3 L614.1,580.5 L614.8,579.5 L615.5,578.5 L616.2,577.4 L616.9,576.2 L617.6,575.1 L618.3,573.9 L619.0,572.9 L619.7,572.0 L620.4,571.3 L621.1,570.7 L621.8,570.4 L622.5,570.2 L623.2,570.3 L623.9,570.6 L624.6,571.0 L625.3,571.7 L626.0,572.6 L626.7,573.5 L627.4,574.6 L628.1,575.7 L628.8,576.9 L629.5,578.1 L630.2,579.1 L630.9,580.1 L631.6,581.0 L632.3,581.7 L633.0,582.2 L633.7,582.5 L634.4,582.6 L635.1,582.5 L635.8,582.1 L636.5,581.6 L637.2,580.9 L637.9,580.0 L638.6,579.0 L639.3,577.9 L640.0,576.7 L640.7,575.6 L641.4,574.4 L642.1,573.4 L642.8,572.4 L643.5,571.6 L644.2,571.0 L644.9,570.5 L645.6,570.2 L646.3,570.2 L647.0,570.4 L647.7,570.8 L648.4,571.4 L649.1,572.2 L649.8,573.1 L650.5,574.1 L651.2,575.2 L651.9,576.4 L652.6,577.5 L653.3,578.7 L654.0,579.7 L654.7,580.6 L655.4,581.4 L656.1,582.0 L656.8,582.4 L657.5,582.6 L658.2,582.6 L658.9,582.3 L659.6,581.9 L660.3,581.2 L661.0,580.4 L661.7,579.5 L662.4,578.4 L663.1,577.3 L663.8,576.1 L664.5,575.0 L665.2,573.9 L665.9,572.8 L666.6,572.0 L667.3,571.2 L668.0,570.7 L668.7,570.3 L669.4,570.2 L670.1,570.3 L670.8,570.6 L671.5,571.1 L672.2,571.8 L672.9,572.6 L673.6,573.6 L674.3,574.7 L675.0,575.8 L675.7,577.0 L676.4,578.1 L677.1,579.2 L677.8,580.2 L678.5,581.1 L679.2,581.7 L679.9,582.2 L680.6,582.5" fill="none" stroke="#303030" stroke-width="1.05"/>
<text x="688" y="583" font-size="16" font-weight="bold" text-anchor="start" >AAAAA</text>
<path fill="#0f960f" d="M691.7,563.1 L754.5,496.8 L760.3,502.2 L775.8,469.4 L743.9,486.7 L749.6,492.1 L686.7,558.5Z"/>
<rect x="720" y="396" width="160" height="30" fill="#f9c85e"/>
<path d="M700.5,375 C719.058,355.375 785.042,355.375 803.6,375 L803.6,401.5 C785.042,414.625 719.058,414.625 700.5,401.5Z" fill="#f9c85e" stroke="#f2b23c" stroke-width="1"/>
<path d="M803.6,373 C820.736,354.625 881.664,354.625 898.8,373 L898.8,401 C881.664,414.75 820.736,414.75 803.6,401Z" fill="#f9c85e" stroke="#f2b23c" stroke-width="1"/>
<path d="M635,417 C652.64,399.5 715.36,399.5 733,417 L733,444 C715.36,448.375 652.64,448.375 635,444Z" fill="#f9c85e" stroke="#f2b23c" stroke-width="1"/>
<path d="M829.6,416.5 C845.278,399.625 901.022,399.625 916.7,416.5 L916.7,441.5 C901.022,460.125 845.278,460.125 829.6,441.5Z" fill="#f9c85e" stroke="#f2b23c" stroke-width="1"/>
<path d="M732.4,410 C750.508,396.25 814.892,396.25 833,410 L833,446.5 C814.892,463.875 750.508,463.875 732.4,446.5Z" fill="#f9c85e" stroke="#f2b23c" stroke-width="1"/>
<ellipse cx="752" cy="386" rx="25.5" ry="10.8" fill="url(#nuc)" stroke="#e8752a" stroke-width="1"/>
<ellipse cx="851.2" cy="385.6" rx="25.5" ry="10.8" fill="url(#nuc)" stroke="#e8752a" stroke-width="1"/>
<ellipse cx="683.9" cy="429.8" rx="29" ry="11.6" fill="url(#nuc)" stroke="#e8752a" stroke-width="1"/>
<ellipse cx="783" cy="429.8" rx="25.8" ry="10.3" fill="url(#nuc)" stroke="#e8752a" stroke-width="1"/>
<ellipse cx="865.5" cy="429.8" rx="25.8" ry="10.3" fill="url(#nuc)" stroke="#e8752a" stroke-width="1"/>
<text x="719" y="415.8" font-size="16" font-weight="bold" text-anchor="start" >CRC proliferation</text>
<rect x="805.5" y="262.5" width="133" height="74" fill="#fff" stroke="#111" stroke-width="1.2"/>
<path fill="#0f960f" d="M814.7,277.2 L847.2,277.2 L847.2,271.8 L858.8,279.9 L847.2,287.6 L847.2,282.7 L814.7,282.7Z"/>
<text x="863.3" y="283.6" font-size="16" text-anchor="start" >Activated</text>
<path d="M816.8,327.8 C822,314 826,309.5 852.6,308.1" fill="none" stroke="#e60f0f" stroke-width="3.8"/>
<rect x="852.2" y="302.2" width="4.4" height="12.4" fill="#e60f0f"/>
<text x="862.4" y="315.3" font-size="16" text-anchor="start" >Inhibited</text>
<g class="cap" font-size="13.6" style="fill:#231f20">
<text x="11.8" y="618.2" font-weight="bold" textLength="41.5" lengthAdjust="spacingAndGlyphs" style="fill:#231f20">Figure</text>
<text x="70.2" y="618.2" textLength="21.0" lengthAdjust="spacingAndGlyphs" style="fill:#231f20">The</text>
<text x="96.3" y="618.2" textLength="83.3" lengthAdjust="spacingAndGlyphs" style="fill:#231f20">protumorigenic</text>
<text x="188.6" y="618.2" textLength="67.4" lengthAdjust="spacingAndGlyphs" style="fill:#231f20">mechanisms</text>
<text x="262.2" y="618.2" textLength="10.2" lengthAdjust="spacingAndGlyphs" style="fill:#231f20">of</text>
<text x="277.4" y="618.2" textLength="35.9" lengthAdjust="spacingAndGlyphs" style="fill:#231f20">HULC</text>
<text x="319.0" y="618.2" textLength="87.0" lengthAdjust="spacingAndGlyphs" style="fill:#231f20">overexpression</text>
<text x="412.4" y="618.2" textLength="8.1" lengthAdjust="spacingAndGlyphs" style="fill:#231f20">in</text>
<text x="425.6" y="618.2" textLength="28.1" lengthAdjust="spacingAndGlyphs" style="fill:#231f20">HCC</text>
<text x="459.8" y="618.2" textLength="19.7" lengthAdjust="spacingAndGlyphs" style="fill:#231f20">and</text>
<text x="484.5" y="618.2" textLength="30.3" lengthAdjust="spacingAndGlyphs" style="fill:#231f20">CRC.</text>
<rect x="59.7" y="608.2" width="2.6" height="10" fill="#231f20"/>
</g>
</svg></body></html>
